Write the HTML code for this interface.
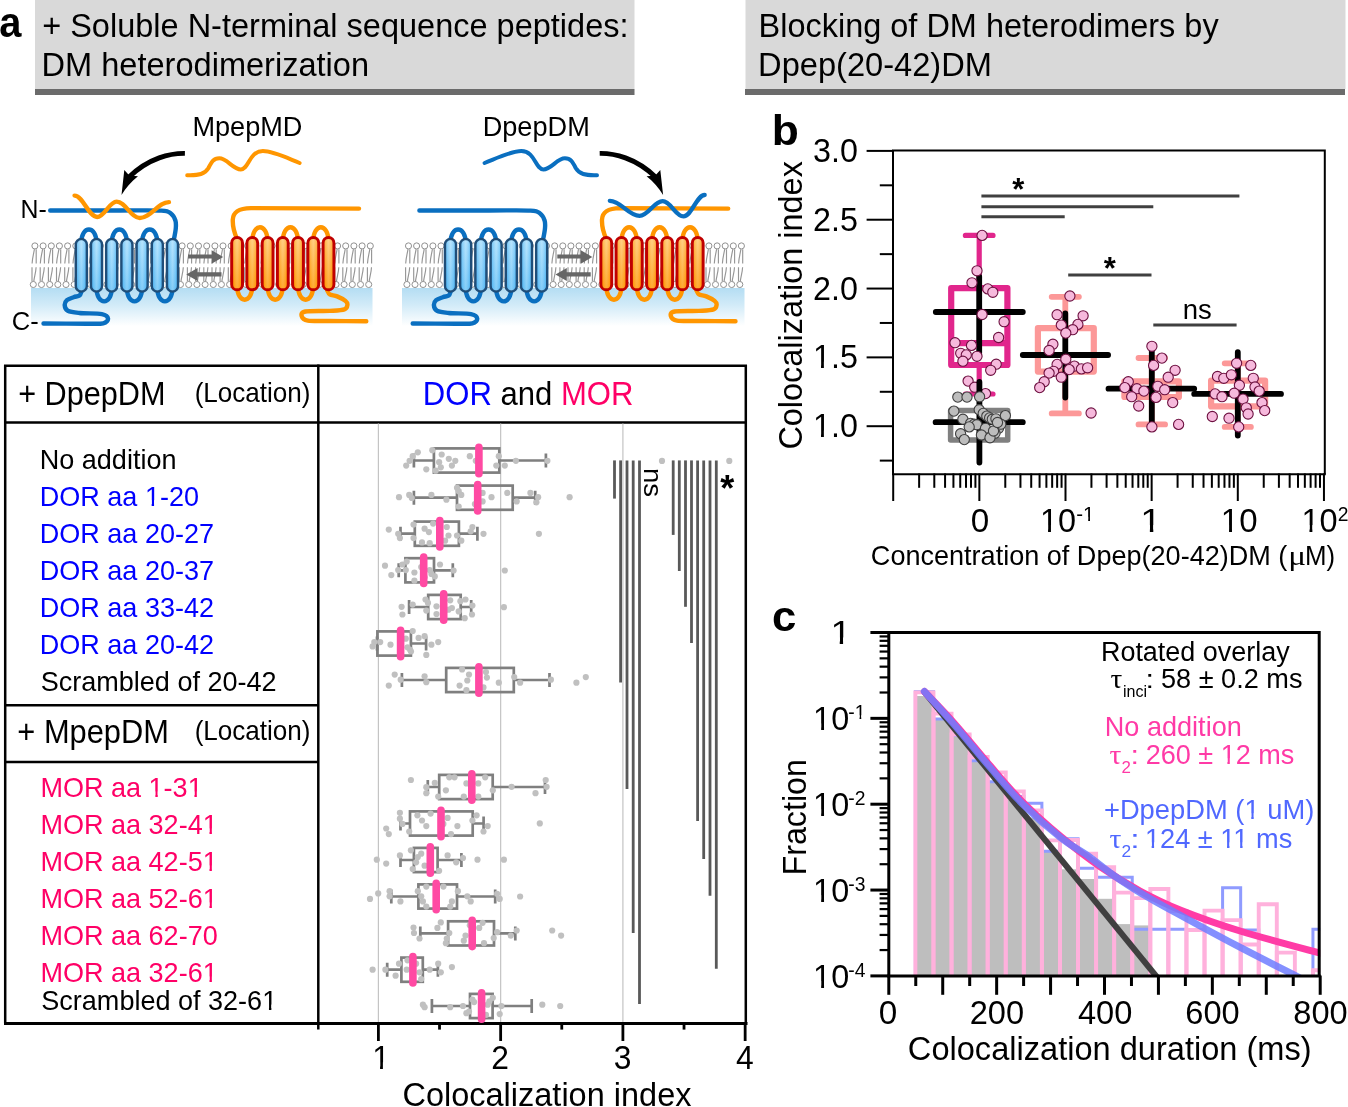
<!DOCTYPE html>
<html><head><meta charset="utf-8"><title>Figure</title>
<style>
html,body{margin:0;padding:0;background:#fff;}
body{width:1348px;height:1107px;overflow:hidden;font-family:"Liberation Sans",sans-serif;}
svg{display:block;will-change:transform;}
</style></head><body>
<svg xmlns="http://www.w3.org/2000/svg" width="1348" height="1107" viewBox="0 0 1348 1107">
<rect x="35" y="0" width="599.5" height="89" fill="#d9d9d9"/>
<rect x="35" y="89" width="599.5" height="6" fill="#6b6b6b"/>
<rect x="745.5" y="0" width="600" height="89" fill="#d9d9d9"/>
<rect x="745" y="89" width="600" height="6" fill="#6b6b6b"/>
<text transform="translate(-0.69,37.17) scale(0.9609,1.0400)" style='font-family:"Liberation Sans",sans-serif;font-size:41.43px;font-weight:bold;' fill="#000" >a</text>
<text transform="translate(771.72,145.17) scale(1.0764,1.0400)" style='font-family:"Liberation Sans",sans-serif;font-size:41.21px;font-weight:bold;' fill="#000" >b</text>
<text transform="translate(771.95,631.17) scale(1.0640,1.0400)" style='font-family:"Liberation Sans",sans-serif;font-size:41.08px;font-weight:bold;' fill="#000" >c</text>
<text transform="translate(42.17,36.90) scale(1.0095,1.0400)" style='font-family:"Liberation Sans",sans-serif;font-size:32.20px;' fill="#000" >+ Soluble N-terminal sequence peptides:</text>
<text transform="translate(41.59,75.70) scale(1.0114,1.0400)" style='font-family:"Liberation Sans",sans-serif;font-size:32.20px;' fill="#000" >DM heterodimerization</text>
<text transform="translate(758.60,36.90) scale(1.0086,1.0400)" style='font-family:"Liberation Sans",sans-serif;font-size:32.20px;' fill="#000" >Blocking of DM heterodimers by</text>
<text transform="translate(758.09,75.70) scale(1.0135,1.0400)" style='font-family:"Liberation Sans",sans-serif;font-size:32.20px;' fill="#000" >Dpep(20-42)DM</text>
<defs>
<linearGradient id="cyto" x1="0" y1="0" x2="0" y2="1">
 <stop offset="0" stop-color="#b4ddf3"/>
 <stop offset="0.45" stop-color="#d2ebf8"/>
 <stop offset="1" stop-color="#ffffff"/>
</linearGradient>
<linearGradient id="hb" x1="0" y1="0" x2="0" y2="1">
 <stop offset="0" stop-color="#a2dcfd"/>
 <stop offset="1" stop-color="#5cbcf5"/>
</linearGradient>
<linearGradient id="hbv" x1="0" y1="0" x2="1" y2="0">
 <stop offset="0" stop-color="#3aa8ee" stop-opacity="0.35"/>
 <stop offset="0.5" stop-color="#ffffff" stop-opacity="0.25"/>
 <stop offset="1" stop-color="#3aa8ee" stop-opacity="0.35"/>
</linearGradient>
<linearGradient id="ho" x1="0" y1="0" x2="0" y2="1">
 <stop offset="0" stop-color="#ffc468"/>
 <stop offset="1" stop-color="#ff9500"/>
</linearGradient>
<linearGradient id="hov" x1="0" y1="0" x2="1" y2="0">
 <stop offset="0" stop-color="#ff8c00" stop-opacity="0.3"/>
 <stop offset="0.5" stop-color="#ffffff" stop-opacity="0.2"/>
 <stop offset="1" stop-color="#ff8c00" stop-opacity="0.3"/>
</linearGradient>
</defs>
<rect x="31.0" y="288" width="341.5" height="38" fill="url(#cyto)"/>
<path d="M36.2,249.2 V263.6 M34.4,249.2 C33.7,254 32.3,258 32.1,263.6 M32.0,267.3 V281.3 M33.8,281.3 C34.5,276 35.9,272 36.1,267.3 M44.4,249.2 V263.6 M42.6,249.2 C41.9,254 40.5,258 40.3,263.6 M40.2,267.3 V281.3 M42.0,281.3 C42.7,276 44.1,272 44.3,267.3 M52.6,249.2 V263.6 M50.8,249.2 C50.1,254 48.7,258 48.5,263.6 M48.4,267.3 V281.3 M50.2,281.3 C50.9,276 52.3,272 52.5,267.3 M60.7,249.2 V263.6 M58.9,249.2 C58.2,254 56.8,258 56.6,263.6 M56.5,267.3 V281.3 M58.3,281.3 C59.0,276 60.4,272 60.6,267.3 M68.9,249.2 V263.6 M67.1,249.2 C66.4,254 65.0,258 64.8,263.6 M64.7,267.3 V281.3 M66.5,281.3 C67.2,276 68.6,272 68.8,267.3 M77.1,249.2 V263.6 M75.3,249.2 C74.6,254 73.2,258 73.0,263.6 M72.9,267.3 V281.3 M74.7,281.3 C75.4,276 76.8,272 77.0,267.3 M85.3,249.2 V263.6 M83.5,249.2 C82.8,254 81.4,258 81.2,263.6 M81.1,267.3 V281.3 M82.9,281.3 C83.6,276 85.0,272 85.2,267.3 M93.5,249.2 V263.6 M91.7,249.2 C91.0,254 89.6,258 89.4,263.6 M89.3,267.3 V281.3 M91.1,281.3 C91.8,276 93.2,272 93.4,267.3 M101.6,249.2 V263.6 M99.8,249.2 C99.1,254 97.7,258 97.5,263.6 M97.4,267.3 V281.3 M99.2,281.3 C99.9,276 101.3,272 101.5,267.3 M109.8,249.2 V263.6 M108.0,249.2 C107.3,254 105.9,258 105.7,263.6 M105.6,267.3 V281.3 M107.4,281.3 C108.1,276 109.5,272 109.7,267.3 M118.0,249.2 V263.6 M116.2,249.2 C115.5,254 114.1,258 113.9,263.6 M113.8,267.3 V281.3 M115.6,281.3 C116.3,276 117.7,272 117.9,267.3 M126.2,249.2 V263.6 M124.4,249.2 C123.7,254 122.3,258 122.1,263.6 M122.0,267.3 V281.3 M123.8,281.3 C124.5,276 125.9,272 126.1,267.3 M134.4,249.2 V263.6 M132.6,249.2 C131.9,254 130.5,258 130.3,263.6 M130.2,267.3 V281.3 M132.0,281.3 C132.7,276 134.1,272 134.3,267.3 M142.5,249.2 V263.6 M140.7,249.2 C140.0,254 138.6,258 138.4,263.6 M138.3,267.3 V281.3 M140.1,281.3 C140.8,276 142.2,272 142.4,267.3 M150.7,249.2 V263.6 M148.9,249.2 C148.2,254 146.8,258 146.6,263.6 M146.5,267.3 V281.3 M148.3,281.3 C149.0,276 150.4,272 150.6,267.3 M158.9,249.2 V263.6 M157.1,249.2 C156.4,254 155.0,258 154.8,263.6 M154.7,267.3 V281.3 M156.5,281.3 C157.2,276 158.6,272 158.8,267.3 M167.1,249.2 V263.6 M165.3,249.2 C164.6,254 163.2,258 163.0,263.6 M162.9,267.3 V281.3 M164.7,281.3 C165.4,276 166.8,272 167.0,267.3 M175.3,249.2 V263.6 M173.5,249.2 C172.8,254 171.4,258 171.2,263.6 M171.1,267.3 V281.3 M172.9,281.3 C173.6,276 175.0,272 175.2,267.3 M183.4,249.2 V263.6 M181.6,249.2 C180.9,254 179.5,258 179.3,263.6 M179.2,267.3 V281.3 M181.0,281.3 C181.7,276 183.1,272 183.3,267.3 M191.6,249.2 V263.6 M189.8,249.2 C189.1,254 187.7,258 187.5,263.6 M187.4,267.3 V281.3 M189.2,281.3 C189.9,276 191.3,272 191.5,267.3 M199.8,249.2 V263.6 M198.0,249.2 C197.3,254 195.9,258 195.7,263.6 M195.6,267.3 V281.3 M197.4,281.3 C198.1,276 199.5,272 199.7,267.3 M208.0,249.2 V263.6 M206.2,249.2 C205.5,254 204.1,258 203.9,263.6 M203.8,267.3 V281.3 M205.6,281.3 C206.3,276 207.7,272 207.9,267.3 M216.2,249.2 V263.6 M214.4,249.2 C213.7,254 212.3,258 212.1,263.6 M212.0,267.3 V281.3 M213.8,281.3 C214.5,276 215.9,272 216.1,267.3 M224.3,249.2 V263.6 M222.5,249.2 C221.8,254 220.4,258 220.2,263.6 M220.1,267.3 V281.3 M221.9,281.3 C222.6,276 224.0,272 224.2,267.3 M232.5,249.2 V263.6 M230.7,249.2 C230.0,254 228.6,258 228.4,263.6 M228.3,267.3 V281.3 M230.1,281.3 C230.8,276 232.2,272 232.4,267.3 M240.7,249.2 V263.6 M238.9,249.2 C238.2,254 236.8,258 236.6,263.6 M236.5,267.3 V281.3 M238.3,281.3 C239.0,276 240.4,272 240.6,267.3 M248.9,249.2 V263.6 M247.1,249.2 C246.4,254 245.0,258 244.8,263.6 M244.7,267.3 V281.3 M246.5,281.3 C247.2,276 248.6,272 248.8,267.3 M257.1,249.2 V263.6 M255.3,249.2 C254.6,254 253.2,258 253.0,263.6 M252.9,267.3 V281.3 M254.7,281.3 C255.4,276 256.8,272 257.0,267.3 M265.2,249.2 V263.6 M263.4,249.2 C262.7,254 261.3,258 261.1,263.6 M261.0,267.3 V281.3 M262.8,281.3 C263.5,276 264.9,272 265.1,267.3 M273.4,249.2 V263.6 M271.6,249.2 C270.9,254 269.5,258 269.3,263.6 M269.2,267.3 V281.3 M271.0,281.3 C271.7,276 273.1,272 273.3,267.3 M281.6,249.2 V263.6 M279.8,249.2 C279.1,254 277.7,258 277.5,263.6 M277.4,267.3 V281.3 M279.2,281.3 C279.9,276 281.3,272 281.5,267.3 M289.8,249.2 V263.6 M288.0,249.2 C287.3,254 285.9,258 285.7,263.6 M285.6,267.3 V281.3 M287.4,281.3 C288.1,276 289.5,272 289.7,267.3 M298.0,249.2 V263.6 M296.2,249.2 C295.5,254 294.1,258 293.9,263.6 M293.8,267.3 V281.3 M295.6,281.3 C296.3,276 297.7,272 297.9,267.3 M306.1,249.2 V263.6 M304.3,249.2 C303.6,254 302.2,258 302.0,263.6 M301.9,267.3 V281.3 M303.7,281.3 C304.4,276 305.8,272 306.0,267.3 M314.3,249.2 V263.6 M312.5,249.2 C311.8,254 310.4,258 310.2,263.6 M310.1,267.3 V281.3 M311.9,281.3 C312.6,276 314.0,272 314.2,267.3 M322.5,249.2 V263.6 M320.7,249.2 C320.0,254 318.6,258 318.4,263.6 M318.3,267.3 V281.3 M320.1,281.3 C320.8,276 322.2,272 322.4,267.3 M330.7,249.2 V263.6 M328.9,249.2 C328.2,254 326.8,258 326.6,263.6 M326.5,267.3 V281.3 M328.3,281.3 C329.0,276 330.4,272 330.6,267.3 M338.9,249.2 V263.6 M337.1,249.2 C336.4,254 335.0,258 334.8,263.6 M334.7,267.3 V281.3 M336.5,281.3 C337.2,276 338.6,272 338.8,267.3 M347.0,249.2 V263.6 M345.2,249.2 C344.5,254 343.1,258 342.9,263.6 M342.8,267.3 V281.3 M344.6,281.3 C345.3,276 346.7,272 346.9,267.3 M355.2,249.2 V263.6 M353.4,249.2 C352.7,254 351.3,258 351.1,263.6 M351.0,267.3 V281.3 M352.8,281.3 C353.5,276 354.9,272 355.1,267.3 M363.4,249.2 V263.6 M361.6,249.2 C360.9,254 359.5,258 359.3,263.6 M359.2,267.3 V281.3 M361.0,281.3 C361.7,276 363.1,272 363.3,267.3 M371.6,249.2 V263.6 M369.8,249.2 C369.1,254 367.7,258 367.5,263.6 M367.4,267.3 V281.3 M369.2,281.3 C369.9,276 371.3,272 371.5,267.3" stroke="#969696" stroke-width="1.15" fill="none"/>
<g fill="#fff" stroke="#8f8f8f" stroke-width="1.0"><circle cx="34.9" cy="245.9" r="3.05"/><circle cx="33.3" cy="284.5" r="3.05"/><circle cx="43.1" cy="245.9" r="3.05"/><circle cx="41.5" cy="284.5" r="3.05"/><circle cx="51.3" cy="245.9" r="3.05"/><circle cx="49.7" cy="284.5" r="3.05"/><circle cx="59.4" cy="245.9" r="3.05"/><circle cx="57.8" cy="284.5" r="3.05"/><circle cx="67.6" cy="245.9" r="3.05"/><circle cx="66.0" cy="284.5" r="3.05"/><circle cx="75.8" cy="245.9" r="3.05"/><circle cx="74.2" cy="284.5" r="3.05"/><circle cx="84.0" cy="245.9" r="3.05"/><circle cx="82.4" cy="284.5" r="3.05"/><circle cx="92.2" cy="245.9" r="3.05"/><circle cx="90.6" cy="284.5" r="3.05"/><circle cx="100.3" cy="245.9" r="3.05"/><circle cx="98.7" cy="284.5" r="3.05"/><circle cx="108.5" cy="245.9" r="3.05"/><circle cx="106.9" cy="284.5" r="3.05"/><circle cx="116.7" cy="245.9" r="3.05"/><circle cx="115.1" cy="284.5" r="3.05"/><circle cx="124.9" cy="245.9" r="3.05"/><circle cx="123.3" cy="284.5" r="3.05"/><circle cx="133.1" cy="245.9" r="3.05"/><circle cx="131.5" cy="284.5" r="3.05"/><circle cx="141.2" cy="245.9" r="3.05"/><circle cx="139.6" cy="284.5" r="3.05"/><circle cx="149.4" cy="245.9" r="3.05"/><circle cx="147.8" cy="284.5" r="3.05"/><circle cx="157.6" cy="245.9" r="3.05"/><circle cx="156.0" cy="284.5" r="3.05"/><circle cx="165.8" cy="245.9" r="3.05"/><circle cx="164.2" cy="284.5" r="3.05"/><circle cx="174.0" cy="245.9" r="3.05"/><circle cx="172.4" cy="284.5" r="3.05"/><circle cx="182.1" cy="245.9" r="3.05"/><circle cx="180.5" cy="284.5" r="3.05"/><circle cx="190.3" cy="245.9" r="3.05"/><circle cx="188.7" cy="284.5" r="3.05"/><circle cx="198.5" cy="245.9" r="3.05"/><circle cx="196.9" cy="284.5" r="3.05"/><circle cx="206.7" cy="245.9" r="3.05"/><circle cx="205.1" cy="284.5" r="3.05"/><circle cx="214.9" cy="245.9" r="3.05"/><circle cx="213.3" cy="284.5" r="3.05"/><circle cx="223.0" cy="245.9" r="3.05"/><circle cx="221.4" cy="284.5" r="3.05"/><circle cx="231.2" cy="245.9" r="3.05"/><circle cx="229.6" cy="284.5" r="3.05"/><circle cx="239.4" cy="245.9" r="3.05"/><circle cx="237.8" cy="284.5" r="3.05"/><circle cx="247.6" cy="245.9" r="3.05"/><circle cx="246.0" cy="284.5" r="3.05"/><circle cx="255.8" cy="245.9" r="3.05"/><circle cx="254.2" cy="284.5" r="3.05"/><circle cx="263.9" cy="245.9" r="3.05"/><circle cx="262.3" cy="284.5" r="3.05"/><circle cx="272.1" cy="245.9" r="3.05"/><circle cx="270.5" cy="284.5" r="3.05"/><circle cx="280.3" cy="245.9" r="3.05"/><circle cx="278.7" cy="284.5" r="3.05"/><circle cx="288.5" cy="245.9" r="3.05"/><circle cx="286.9" cy="284.5" r="3.05"/><circle cx="296.7" cy="245.9" r="3.05"/><circle cx="295.1" cy="284.5" r="3.05"/><circle cx="304.8" cy="245.9" r="3.05"/><circle cx="303.2" cy="284.5" r="3.05"/><circle cx="313.0" cy="245.9" r="3.05"/><circle cx="311.4" cy="284.5" r="3.05"/><circle cx="321.2" cy="245.9" r="3.05"/><circle cx="319.6" cy="284.5" r="3.05"/><circle cx="329.4" cy="245.9" r="3.05"/><circle cx="327.8" cy="284.5" r="3.05"/><circle cx="337.6" cy="245.9" r="3.05"/><circle cx="336.0" cy="284.5" r="3.05"/><circle cx="345.7" cy="245.9" r="3.05"/><circle cx="344.1" cy="284.5" r="3.05"/><circle cx="353.9" cy="245.9" r="3.05"/><circle cx="352.3" cy="284.5" r="3.05"/><circle cx="362.1" cy="245.9" r="3.05"/><circle cx="360.5" cy="284.5" r="3.05"/><circle cx="370.3" cy="245.9" r="3.05"/><circle cx="368.7" cy="284.5" r="3.05"/></g>
<path d="M81.3,242.9 C81.3,225.0 96.5,225.0 96.5,242.9 M111.8,242.9 C111.8,225.0 126.9,225.0 126.9,242.9 M142.1,242.9 C142.1,225.0 157.3,225.0 157.3,242.9 M96.5,287.6 C96.5,306.0 111.8,306.0 111.8,287.6 M126.9,287.6 C126.9,306.0 142.1,306.0 142.1,287.6 M157.3,287.6 C157.3,306.0 172.5,306.0 172.5,287.6 M50.2,210.5 C61.8,210.5 101.5,210.5 120.0,210.5 C138.5,210.5 152.8,210.1 161.3,210.6 C169.8,211.1 168.6,211.8 170.9,213.5 C173.2,215.2 174.6,218.1 175.4,220.5 C176.2,222.9 176.0,225.3 175.8,228.2 C175.6,231.1 174.5,236.4 174.2,238.0 M81.6,291.0 C81.2,291.8 80.8,294.6 79.5,295.6 C78.2,296.6 75.7,296.4 73.6,297.2 C71.5,298.0 68.4,298.9 66.9,300.2 C65.4,301.5 64.6,303.4 64.7,305.2 C64.8,307.0 65.3,309.5 67.8,310.8 C70.3,312.1 73.8,312.4 79.5,313.0 C85.2,313.6 97.0,313.2 101.8,314.1 C106.5,315.0 107.8,317.1 108.0,318.6 C108.2,320.1 106.7,322.5 103.2,323.3 C99.7,324.1 96.9,323.7 86.9,323.7 C77.0,323.7 50.7,323.5 43.5,323.5" stroke="#0a6fc0" stroke-width="4.4" fill="none" stroke-linecap="round"/>
<rect x="75.8" y="238.9" width="11.0" height="52.7" rx="5.5" fill="url(#hb)" stroke="#1f4e79" stroke-width="2.5"/>
<rect x="77.1" y="240.2" width="8.5" height="50.2" rx="4.2" fill="url(#hbv)"/>
<rect x="91.0" y="238.9" width="11.0" height="52.7" rx="5.5" fill="url(#hb)" stroke="#1f4e79" stroke-width="2.5"/>
<rect x="92.3" y="240.2" width="8.5" height="50.2" rx="4.2" fill="url(#hbv)"/>
<rect x="106.2" y="238.9" width="11.0" height="52.7" rx="5.5" fill="url(#hb)" stroke="#1f4e79" stroke-width="2.5"/>
<rect x="107.5" y="240.2" width="8.5" height="50.2" rx="4.2" fill="url(#hbv)"/>
<rect x="121.4" y="238.9" width="11.0" height="52.7" rx="5.5" fill="url(#hb)" stroke="#1f4e79" stroke-width="2.5"/>
<rect x="122.7" y="240.2" width="8.5" height="50.2" rx="4.2" fill="url(#hbv)"/>
<rect x="136.6" y="238.9" width="11.0" height="52.7" rx="5.5" fill="url(#hb)" stroke="#1f4e79" stroke-width="2.5"/>
<rect x="137.9" y="240.2" width="8.5" height="50.2" rx="4.2" fill="url(#hbv)"/>
<rect x="151.8" y="238.9" width="11.0" height="52.7" rx="5.5" fill="url(#hb)" stroke="#1f4e79" stroke-width="2.5"/>
<rect x="153.1" y="240.2" width="8.5" height="50.2" rx="4.2" fill="url(#hbv)"/>
<rect x="167.0" y="238.9" width="11.0" height="52.7" rx="5.5" fill="url(#hb)" stroke="#1f4e79" stroke-width="2.5"/>
<rect x="168.3" y="240.2" width="8.5" height="50.2" rx="4.2" fill="url(#hbv)"/>
<path d="M252.3,241.6 C252.3,222.4 267.6,222.4 267.6,241.6 M282.8,241.6 C282.8,222.4 298.0,222.4 298.0,241.6 M313.2,241.6 C313.2,222.4 328.5,222.4 328.5,241.6 M237.1,285.8 C237.1,304.3 252.3,304.3 252.3,285.8 M267.6,285.8 C267.6,304.3 282.8,304.3 282.8,285.8 M298.0,285.8 C298.0,304.3 313.2,304.3 313.2,285.8 M 237.1 239.0 C 233.5 231.0 232.6 224.0 232.8 219.5 C 233.2 212.0 238.0 208.4 251.0 208.1 L 359.0 208.6 M327.3,290.5 C327.7,291.1 328.2,293.4 329.8,294.4 C331.4,295.4 334.5,295.3 337.1,296.4 C339.7,297.5 343.7,299.5 345.4,300.9 C347.1,302.3 347.6,303.4 347.4,304.8 C347.2,306.2 347.3,308.4 344.4,309.4 C341.5,310.4 336.3,310.5 329.8,310.9 C323.3,311.2 310.1,310.6 305.4,311.5 C300.7,312.4 301.3,314.6 301.7,316.1 C302.1,317.6 303.1,319.8 307.8,320.6 C312.5,321.4 320.2,320.9 330.0,321.0 C339.8,321.1 360.2,321.2 366.3,321.2" stroke="#ff9600" stroke-width="4.4" fill="none" stroke-linecap="round"/>
<rect x="231.7" y="237.6" width="10.8" height="52.2" rx="5.4" fill="url(#ho)" stroke="#c00000" stroke-width="3.0"/>
<rect x="233.2" y="239.1" width="7.8" height="49.2" rx="3.9" fill="url(#hov)"/>
<rect x="246.9" y="237.6" width="10.8" height="52.2" rx="5.4" fill="url(#ho)" stroke="#c00000" stroke-width="3.0"/>
<rect x="248.4" y="239.1" width="7.8" height="49.2" rx="3.9" fill="url(#hov)"/>
<rect x="262.2" y="237.6" width="10.8" height="52.2" rx="5.4" fill="url(#ho)" stroke="#c00000" stroke-width="3.0"/>
<rect x="263.7" y="239.1" width="7.8" height="49.2" rx="3.9" fill="url(#hov)"/>
<rect x="277.4" y="237.6" width="10.8" height="52.2" rx="5.4" fill="url(#ho)" stroke="#c00000" stroke-width="3.0"/>
<rect x="278.9" y="239.1" width="7.8" height="49.2" rx="3.9" fill="url(#hov)"/>
<rect x="292.6" y="237.6" width="10.8" height="52.2" rx="5.4" fill="url(#ho)" stroke="#c00000" stroke-width="3.0"/>
<rect x="294.1" y="239.1" width="7.8" height="49.2" rx="3.9" fill="url(#hov)"/>
<rect x="307.9" y="237.6" width="10.8" height="52.2" rx="5.4" fill="url(#ho)" stroke="#c00000" stroke-width="3.0"/>
<rect x="309.4" y="239.1" width="7.8" height="49.2" rx="3.9" fill="url(#hov)"/>
<rect x="323.1" y="237.6" width="10.8" height="52.2" rx="5.4" fill="url(#ho)" stroke="#c00000" stroke-width="3.0"/>
<rect x="324.6" y="239.1" width="7.8" height="49.2" rx="3.9" fill="url(#hov)"/>
<g fill="#666">
<path d="M188.1,254.5 H211.6 V250.2 L223.1,256.9 L211.6,263.7 V258.6 H188.1 Z"/>
<path d="M221.5,272.3 H197.6 V268.0 L186.3,274.6 L197.6,280.9 V276.4 H221.5 Z"/>
</g>
<rect x="402.0" y="288" width="342.5" height="38" fill="url(#cyto)"/>
<path d="M409.8,249.2 V263.6 M408.0,249.2 C407.3,254 405.9,258 405.7,263.6 M405.6,267.3 V281.3 M407.4,281.3 C408.1,276 409.5,272 409.7,267.3 M417.9,249.2 V263.6 M416.1,249.2 C415.4,254 414.0,258 413.8,263.6 M413.7,267.3 V281.3 M415.5,281.3 C416.2,276 417.6,272 417.8,267.3 M426.0,249.2 V263.6 M424.2,249.2 C423.5,254 422.1,258 421.9,263.6 M421.8,267.3 V281.3 M423.6,281.3 C424.3,276 425.7,272 425.9,267.3 M434.2,249.2 V263.6 M432.4,249.2 C431.7,254 430.3,258 430.1,263.6 M430.0,267.3 V281.3 M431.8,281.3 C432.5,276 433.9,272 434.1,267.3 M442.3,249.2 V263.6 M440.5,249.2 C439.8,254 438.4,258 438.2,263.6 M438.1,267.3 V281.3 M439.9,281.3 C440.6,276 442.0,272 442.2,267.3 M450.4,249.2 V263.6 M448.6,249.2 C447.9,254 446.5,258 446.3,263.6 M446.2,267.3 V281.3 M448.0,281.3 C448.7,276 450.1,272 450.3,267.3 M458.5,249.2 V263.6 M456.7,249.2 C456.0,254 454.6,258 454.4,263.6 M454.3,267.3 V281.3 M456.1,281.3 C456.8,276 458.2,272 458.4,267.3 M466.6,249.2 V263.6 M464.8,249.2 C464.1,254 462.7,258 462.5,263.6 M462.4,267.3 V281.3 M464.2,281.3 C464.9,276 466.3,272 466.5,267.3 M474.8,249.2 V263.6 M473.0,249.2 C472.3,254 470.9,258 470.7,263.6 M470.6,267.3 V281.3 M472.4,281.3 C473.1,276 474.5,272 474.7,267.3 M482.9,249.2 V263.6 M481.1,249.2 C480.4,254 479.0,258 478.8,263.6 M478.7,267.3 V281.3 M480.5,281.3 C481.2,276 482.6,272 482.8,267.3 M491.0,249.2 V263.6 M489.2,249.2 C488.5,254 487.1,258 486.9,263.6 M486.8,267.3 V281.3 M488.6,281.3 C489.3,276 490.7,272 490.9,267.3 M499.1,249.2 V263.6 M497.3,249.2 C496.6,254 495.2,258 495.0,263.6 M494.9,267.3 V281.3 M496.7,281.3 C497.4,276 498.8,272 499.0,267.3 M507.2,249.2 V263.6 M505.4,249.2 C504.7,254 503.3,258 503.1,263.6 M503.0,267.3 V281.3 M504.8,281.3 C505.5,276 506.9,272 507.1,267.3 M515.4,249.2 V263.6 M513.6,249.2 C512.9,254 511.5,258 511.3,263.6 M511.2,267.3 V281.3 M513.0,281.3 C513.7,276 515.1,272 515.3,267.3 M523.5,249.2 V263.6 M521.7,249.2 C521.0,254 519.6,258 519.4,263.6 M519.3,267.3 V281.3 M521.1,281.3 C521.8,276 523.2,272 523.4,267.3 M531.6,249.2 V263.6 M529.8,249.2 C529.1,254 527.7,258 527.5,263.6 M527.4,267.3 V281.3 M529.2,281.3 C529.9,276 531.3,272 531.5,267.3 M539.7,249.2 V263.6 M537.9,249.2 C537.2,254 535.8,258 535.6,263.6 M535.5,267.3 V281.3 M537.3,281.3 C538.0,276 539.4,272 539.6,267.3 M547.8,249.2 V263.6 M546.0,249.2 C545.3,254 543.9,258 543.7,263.6 M543.6,267.3 V281.3 M545.4,281.3 C546.1,276 547.5,272 547.7,267.3 M556.0,249.2 V263.6 M554.2,249.2 C553.5,254 552.1,258 551.9,263.6 M551.8,267.3 V281.3 M553.6,281.3 C554.3,276 555.7,272 555.9,267.3 M564.1,249.2 V263.6 M562.3,249.2 C561.6,254 560.2,258 560.0,263.6 M559.9,267.3 V281.3 M561.7,281.3 C562.4,276 563.8,272 564.0,267.3 M572.2,249.2 V263.6 M570.4,249.2 C569.7,254 568.3,258 568.1,263.6 M568.0,267.3 V281.3 M569.8,281.3 C570.5,276 571.9,272 572.1,267.3 M580.3,249.2 V263.6 M578.5,249.2 C577.8,254 576.4,258 576.2,263.6 M576.1,267.3 V281.3 M577.9,281.3 C578.6,276 580.0,272 580.2,267.3 M588.4,249.2 V263.6 M586.6,249.2 C585.9,254 584.5,258 584.3,263.6 M584.2,267.3 V281.3 M586.0,281.3 C586.7,276 588.1,272 588.3,267.3 M596.6,249.2 V263.6 M594.8,249.2 C594.1,254 592.7,258 592.5,263.6 M592.4,267.3 V281.3 M594.2,281.3 C594.9,276 596.3,272 596.5,267.3 M604.7,249.2 V263.6 M602.9,249.2 C602.2,254 600.8,258 600.6,263.6 M600.5,267.3 V281.3 M602.3,281.3 C603.0,276 604.4,272 604.6,267.3 M612.8,249.2 V263.6 M611.0,249.2 C610.3,254 608.9,258 608.7,263.6 M608.6,267.3 V281.3 M610.4,281.3 C611.1,276 612.5,272 612.7,267.3 M620.9,249.2 V263.6 M619.1,249.2 C618.4,254 617.0,258 616.8,263.6 M616.7,267.3 V281.3 M618.5,281.3 C619.2,276 620.6,272 620.8,267.3 M629.0,249.2 V263.6 M627.2,249.2 C626.5,254 625.1,258 624.9,263.6 M624.8,267.3 V281.3 M626.6,281.3 C627.3,276 628.7,272 628.9,267.3 M637.2,249.2 V263.6 M635.4,249.2 C634.7,254 633.3,258 633.1,263.6 M633.0,267.3 V281.3 M634.8,281.3 C635.5,276 636.9,272 637.1,267.3 M645.3,249.2 V263.6 M643.5,249.2 C642.8,254 641.4,258 641.2,263.6 M641.1,267.3 V281.3 M642.9,281.3 C643.6,276 645.0,272 645.2,267.3 M653.4,249.2 V263.6 M651.6,249.2 C650.9,254 649.5,258 649.3,263.6 M649.2,267.3 V281.3 M651.0,281.3 C651.7,276 653.1,272 653.3,267.3 M661.5,249.2 V263.6 M659.7,249.2 C659.0,254 657.6,258 657.4,263.6 M657.3,267.3 V281.3 M659.1,281.3 C659.8,276 661.2,272 661.4,267.3 M669.6,249.2 V263.6 M667.8,249.2 C667.1,254 665.7,258 665.5,263.6 M665.4,267.3 V281.3 M667.2,281.3 C667.9,276 669.3,272 669.5,267.3 M677.8,249.2 V263.6 M676.0,249.2 C675.3,254 673.9,258 673.7,263.6 M673.6,267.3 V281.3 M675.4,281.3 C676.1,276 677.5,272 677.7,267.3 M685.9,249.2 V263.6 M684.1,249.2 C683.4,254 682.0,258 681.8,263.6 M681.7,267.3 V281.3 M683.5,281.3 C684.2,276 685.6,272 685.8,267.3 M694.0,249.2 V263.6 M692.2,249.2 C691.5,254 690.1,258 689.9,263.6 M689.8,267.3 V281.3 M691.6,281.3 C692.3,276 693.7,272 693.9,267.3 M702.1,249.2 V263.6 M700.3,249.2 C699.6,254 698.2,258 698.0,263.6 M697.9,267.3 V281.3 M699.7,281.3 C700.4,276 701.8,272 702.0,267.3 M710.2,249.2 V263.6 M708.4,249.2 C707.7,254 706.3,258 706.1,263.6 M706.0,267.3 V281.3 M707.8,281.3 C708.5,276 709.9,272 710.1,267.3 M718.4,249.2 V263.6 M716.6,249.2 C715.9,254 714.5,258 714.3,263.6 M714.2,267.3 V281.3 M716.0,281.3 C716.7,276 718.1,272 718.3,267.3 M726.5,249.2 V263.6 M724.7,249.2 C724.0,254 722.6,258 722.4,263.6 M722.3,267.3 V281.3 M724.1,281.3 C724.8,276 726.2,272 726.4,267.3 M734.6,249.2 V263.6 M732.8,249.2 C732.1,254 730.7,258 730.5,263.6 M730.4,267.3 V281.3 M732.2,281.3 C732.9,276 734.3,272 734.5,267.3 M742.7,249.2 V263.6 M740.9,249.2 C740.2,254 738.8,258 738.6,263.6 M738.5,267.3 V281.3 M740.3,281.3 C741.0,276 742.4,272 742.6,267.3" stroke="#969696" stroke-width="1.15" fill="none"/>
<g fill="#fff" stroke="#8f8f8f" stroke-width="1.0"><circle cx="408.5" cy="245.9" r="3.05"/><circle cx="406.9" cy="284.5" r="3.05"/><circle cx="416.6" cy="245.9" r="3.05"/><circle cx="415.0" cy="284.5" r="3.05"/><circle cx="424.7" cy="245.9" r="3.05"/><circle cx="423.1" cy="284.5" r="3.05"/><circle cx="432.9" cy="245.9" r="3.05"/><circle cx="431.3" cy="284.5" r="3.05"/><circle cx="441.0" cy="245.9" r="3.05"/><circle cx="439.4" cy="284.5" r="3.05"/><circle cx="449.1" cy="245.9" r="3.05"/><circle cx="447.5" cy="284.5" r="3.05"/><circle cx="457.2" cy="245.9" r="3.05"/><circle cx="455.6" cy="284.5" r="3.05"/><circle cx="465.3" cy="245.9" r="3.05"/><circle cx="463.7" cy="284.5" r="3.05"/><circle cx="473.5" cy="245.9" r="3.05"/><circle cx="471.9" cy="284.5" r="3.05"/><circle cx="481.6" cy="245.9" r="3.05"/><circle cx="480.0" cy="284.5" r="3.05"/><circle cx="489.7" cy="245.9" r="3.05"/><circle cx="488.1" cy="284.5" r="3.05"/><circle cx="497.8" cy="245.9" r="3.05"/><circle cx="496.2" cy="284.5" r="3.05"/><circle cx="505.9" cy="245.9" r="3.05"/><circle cx="504.3" cy="284.5" r="3.05"/><circle cx="514.1" cy="245.9" r="3.05"/><circle cx="512.5" cy="284.5" r="3.05"/><circle cx="522.2" cy="245.9" r="3.05"/><circle cx="520.6" cy="284.5" r="3.05"/><circle cx="530.3" cy="245.9" r="3.05"/><circle cx="528.7" cy="284.5" r="3.05"/><circle cx="538.4" cy="245.9" r="3.05"/><circle cx="536.8" cy="284.5" r="3.05"/><circle cx="546.5" cy="245.9" r="3.05"/><circle cx="544.9" cy="284.5" r="3.05"/><circle cx="554.7" cy="245.9" r="3.05"/><circle cx="553.1" cy="284.5" r="3.05"/><circle cx="562.8" cy="245.9" r="3.05"/><circle cx="561.2" cy="284.5" r="3.05"/><circle cx="570.9" cy="245.9" r="3.05"/><circle cx="569.3" cy="284.5" r="3.05"/><circle cx="579.0" cy="245.9" r="3.05"/><circle cx="577.4" cy="284.5" r="3.05"/><circle cx="587.1" cy="245.9" r="3.05"/><circle cx="585.5" cy="284.5" r="3.05"/><circle cx="595.3" cy="245.9" r="3.05"/><circle cx="593.7" cy="284.5" r="3.05"/><circle cx="603.4" cy="245.9" r="3.05"/><circle cx="601.8" cy="284.5" r="3.05"/><circle cx="611.5" cy="245.9" r="3.05"/><circle cx="609.9" cy="284.5" r="3.05"/><circle cx="619.6" cy="245.9" r="3.05"/><circle cx="618.0" cy="284.5" r="3.05"/><circle cx="627.7" cy="245.9" r="3.05"/><circle cx="626.1" cy="284.5" r="3.05"/><circle cx="635.9" cy="245.9" r="3.05"/><circle cx="634.3" cy="284.5" r="3.05"/><circle cx="644.0" cy="245.9" r="3.05"/><circle cx="642.4" cy="284.5" r="3.05"/><circle cx="652.1" cy="245.9" r="3.05"/><circle cx="650.5" cy="284.5" r="3.05"/><circle cx="660.2" cy="245.9" r="3.05"/><circle cx="658.6" cy="284.5" r="3.05"/><circle cx="668.3" cy="245.9" r="3.05"/><circle cx="666.7" cy="284.5" r="3.05"/><circle cx="676.5" cy="245.9" r="3.05"/><circle cx="674.9" cy="284.5" r="3.05"/><circle cx="684.6" cy="245.9" r="3.05"/><circle cx="683.0" cy="284.5" r="3.05"/><circle cx="692.7" cy="245.9" r="3.05"/><circle cx="691.1" cy="284.5" r="3.05"/><circle cx="700.8" cy="245.9" r="3.05"/><circle cx="699.2" cy="284.5" r="3.05"/><circle cx="708.9" cy="245.9" r="3.05"/><circle cx="707.3" cy="284.5" r="3.05"/><circle cx="717.1" cy="245.9" r="3.05"/><circle cx="715.5" cy="284.5" r="3.05"/><circle cx="725.2" cy="245.9" r="3.05"/><circle cx="723.6" cy="284.5" r="3.05"/><circle cx="733.3" cy="245.9" r="3.05"/><circle cx="731.7" cy="284.5" r="3.05"/><circle cx="741.4" cy="245.9" r="3.05"/><circle cx="739.8" cy="284.5" r="3.05"/></g>
<path d="M450.5,242.9 C450.5,225.0 465.7,225.0 465.7,242.9 M480.9,242.9 C480.9,225.0 496.1,225.0 496.1,242.9 M511.3,242.9 C511.3,225.0 526.5,225.0 526.5,242.9 M465.7,287.6 C465.7,306.0 480.9,306.0 480.9,287.6 M496.1,287.6 C496.1,306.0 511.3,306.0 511.3,287.6 M526.5,287.6 C526.5,306.0 541.8,306.0 541.8,287.6 M419.4,210.5 C431.0,210.5 470.7,210.5 489.2,210.5 C507.7,210.5 522.0,210.1 530.5,210.6 C539.0,211.1 537.8,211.8 540.1,213.5 C542.5,215.2 543.8,218.1 544.6,220.5 C545.4,222.9 545.2,225.3 545.0,228.2 C544.8,231.1 543.7,236.4 543.4,238.0 M450.8,291.0 C450.4,291.8 450.0,294.6 448.7,295.6 C447.4,296.6 444.9,296.4 442.8,297.2 C440.7,298.0 437.6,298.9 436.1,300.2 C434.6,301.5 433.8,303.4 433.9,305.2 C434.0,307.0 434.5,309.5 437.0,310.8 C439.5,312.1 443.0,312.4 448.7,313.0 C454.4,313.6 466.2,313.2 471.0,314.1 C475.8,315.0 477.0,317.1 477.2,318.6 C477.4,320.1 475.9,322.5 472.4,323.3 C468.9,324.1 466.1,323.7 456.1,323.7 C446.2,323.7 419.9,323.5 412.7,323.5" stroke="#0a6fc0" stroke-width="4.4" fill="none" stroke-linecap="round"/>
<rect x="445.0" y="238.9" width="11.0" height="52.7" rx="5.5" fill="url(#hb)" stroke="#1f4e79" stroke-width="2.5"/>
<rect x="446.3" y="240.2" width="8.5" height="50.2" rx="4.2" fill="url(#hbv)"/>
<rect x="460.2" y="238.9" width="11.0" height="52.7" rx="5.5" fill="url(#hb)" stroke="#1f4e79" stroke-width="2.5"/>
<rect x="461.5" y="240.2" width="8.5" height="50.2" rx="4.2" fill="url(#hbv)"/>
<rect x="475.4" y="238.9" width="11.0" height="52.7" rx="5.5" fill="url(#hb)" stroke="#1f4e79" stroke-width="2.5"/>
<rect x="476.7" y="240.2" width="8.5" height="50.2" rx="4.2" fill="url(#hbv)"/>
<rect x="490.6" y="238.9" width="11.0" height="52.7" rx="5.5" fill="url(#hb)" stroke="#1f4e79" stroke-width="2.5"/>
<rect x="491.9" y="240.2" width="8.5" height="50.2" rx="4.2" fill="url(#hbv)"/>
<rect x="505.8" y="238.9" width="11.0" height="52.7" rx="5.5" fill="url(#hb)" stroke="#1f4e79" stroke-width="2.5"/>
<rect x="507.1" y="240.2" width="8.5" height="50.2" rx="4.2" fill="url(#hbv)"/>
<rect x="521.0" y="238.9" width="11.0" height="52.7" rx="5.5" fill="url(#hb)" stroke="#1f4e79" stroke-width="2.5"/>
<rect x="522.3" y="240.2" width="8.5" height="50.2" rx="4.2" fill="url(#hbv)"/>
<rect x="536.2" y="238.9" width="11.0" height="52.7" rx="5.5" fill="url(#hb)" stroke="#1f4e79" stroke-width="2.5"/>
<rect x="537.5" y="240.2" width="8.5" height="50.2" rx="4.2" fill="url(#hbv)"/>
<path d="M621.5,241.6 C621.5,222.4 636.8,222.4 636.8,241.6 M652.0,241.6 C652.0,222.4 667.2,222.4 667.2,241.6 M682.4,241.6 C682.4,222.4 697.7,222.4 697.7,241.6 M606.3,285.8 C606.3,304.3 621.5,304.3 621.5,285.8 M636.8,285.8 C636.8,304.3 652.0,304.3 652.0,285.8 M667.2,285.8 C667.2,304.3 682.4,304.3 682.4,285.8 M 606.3 239.0 C 602.7 231.0 601.8 224.0 602.0 219.5 C 602.4 212.0 607.2 208.4 620.2 208.1 L 728.2 208.6 M696.5,290.5 C696.9,291.1 697.4,293.4 699.0,294.4 C700.6,295.4 703.7,295.3 706.3,296.4 C708.9,297.5 712.9,299.5 714.6,300.9 C716.3,302.3 716.8,303.4 716.6,304.8 C716.4,306.2 716.5,308.4 713.6,309.4 C710.7,310.4 705.5,310.5 699.0,310.9 C692.5,311.2 679.3,310.6 674.6,311.5 C669.9,312.4 670.5,314.6 670.9,316.1 C671.3,317.6 672.3,319.8 677.0,320.6 C681.7,321.4 689.5,320.9 699.2,321.0 C709.0,321.1 729.5,321.2 735.5,321.2" stroke="#ff9600" stroke-width="4.4" fill="none" stroke-linecap="round"/>
<rect x="600.9" y="237.6" width="10.8" height="52.2" rx="5.4" fill="url(#ho)" stroke="#c00000" stroke-width="3.0"/>
<rect x="602.4" y="239.1" width="7.8" height="49.2" rx="3.9" fill="url(#hov)"/>
<rect x="616.1" y="237.6" width="10.8" height="52.2" rx="5.4" fill="url(#ho)" stroke="#c00000" stroke-width="3.0"/>
<rect x="617.6" y="239.1" width="7.8" height="49.2" rx="3.9" fill="url(#hov)"/>
<rect x="631.4" y="237.6" width="10.8" height="52.2" rx="5.4" fill="url(#ho)" stroke="#c00000" stroke-width="3.0"/>
<rect x="632.9" y="239.1" width="7.8" height="49.2" rx="3.9" fill="url(#hov)"/>
<rect x="646.6" y="237.6" width="10.8" height="52.2" rx="5.4" fill="url(#ho)" stroke="#c00000" stroke-width="3.0"/>
<rect x="648.1" y="239.1" width="7.8" height="49.2" rx="3.9" fill="url(#hov)"/>
<rect x="661.8" y="237.6" width="10.8" height="52.2" rx="5.4" fill="url(#ho)" stroke="#c00000" stroke-width="3.0"/>
<rect x="663.3" y="239.1" width="7.8" height="49.2" rx="3.9" fill="url(#hov)"/>
<rect x="677.0" y="237.6" width="10.8" height="52.2" rx="5.4" fill="url(#ho)" stroke="#c00000" stroke-width="3.0"/>
<rect x="678.5" y="239.1" width="7.8" height="49.2" rx="3.9" fill="url(#hov)"/>
<rect x="692.3" y="237.6" width="10.8" height="52.2" rx="5.4" fill="url(#ho)" stroke="#c00000" stroke-width="3.0"/>
<rect x="693.8" y="239.1" width="7.8" height="49.2" rx="3.9" fill="url(#hov)"/>
<g fill="#666">
<path d="M557.3,254.5 H580.8 V250.2 L592.3,256.9 L580.8,263.7 V258.6 H557.3 Z"/>
<path d="M590.7,272.3 H566.8 V268.0 L555.5,274.6 L566.8,280.9 V276.4 H590.7 Z"/>
</g>
<path d="M74.5,195.6 C83.1,195.6 88.5,217.0 97.1,217.0 C104.5,217.0 109.2,201.6 116.6,201.6 C125.4,201.6 131.0,218.0 139.8,218.0 C150.9,218.0 157.9,202.2 169.0,202.2" stroke="#ff9600" stroke-width="4.3" fill="none" stroke-linecap="round"/>
<path d="M609.8,200.8 C621.1,200.8 628.3,215.8 639.6,215.8 C648.4,215.8 653.9,201.2 662.7,201.2 C670.6,201.2 675.6,216.4 683.5,216.4 C691.6,216.4 696.6,195.0 704.7,195.0" stroke="#0a6fc0" stroke-width="4.3" fill="none" stroke-linecap="round"/>
<path d="M187.2,175.2 C199,175.6 205,174 208.5,168 C211.5,162 213.5,158.3 219.3,158.3 C227,158.3 233,169.4 240.8,169.4 C249,169.4 249,151.1 262.9,151.1 C273,151.1 287,158 299.6,163" stroke="#ff9600" stroke-width="4.0" fill="none" stroke-linecap="round"/>
<path d="M 597.0 175.2 C 585.2 175.6 579.2 174.0 575.7 168.0 C 572.7 162.0 570.7 158.3 564.9 158.3 C 557.2 158.3 551.2 169.4 543.4 169.4 C 535.2 169.4 535.2 151.1 521.3 151.1 C 511.2 151.1 497.2 158.0 484.6 163.0" stroke="#0a6fc0" stroke-width="4.0" fill="none" stroke-linecap="round"/>
<path d="M184.9,153.4 C171,153.2 149,157.5 128.5,177.5" stroke="#000" stroke-width="4.9" fill="none"/>
<path d="M121.5,194.9 L124.3,170.0 L129.3,175.6 L138.0,176.3 C131,182 126,188 121.5,194.9 Z" fill="#000"/>
<path d="M 599.7 153.4 C 613.6 153.2 635.6 157.5 656.1 177.5" stroke="#000" stroke-width="4.9" fill="none"/>
<path d="M 663.1 194.9 L 660.3 170.0 L 655.3 175.6 L 646.6 176.3 C 653.6 182.0 658.6 188.0 663.1 194.9 Z" fill="#000"/>
<text transform="translate(192.43,135.70) scale(0.9972,1.0400)" style='font-family:"Liberation Sans",sans-serif;font-size:27.20px;' fill="#000" >MpepMD</text>
<text transform="translate(482.63,135.70) scale(0.9985,1.0400)" style='font-family:"Liberation Sans",sans-serif;font-size:27.20px;' fill="#000" >DpepDM</text>
<text transform="translate(20.61,217.90) scale(1.0097,1.0400)" style='font-family:"Liberation Sans",sans-serif;font-size:24.60px;' fill="#000" >N-</text>
<text transform="translate(11.72,329.50) scale(1.0459,1.0400)" style='font-family:"Liberation Sans",sans-serif;font-size:24.40px;' fill="#000" >C-</text>
<g stroke="#000" stroke-width="2.5" fill="none">
<path d="M5.2,1023.5 V365.8 H745.8 V1023.5"/>
<line x1="5.2" y1="422.4" x2="746.8" y2="422.4"/>
<line x1="318.3" y1="364.5" x2="318.3" y2="1029.6"/>
<line x1="5.2" y1="705.2" x2="318.3" y2="705.2"/>
<line x1="5.2" y1="762.0" x2="318.3" y2="762.0"/>
<line x1="4" y1="1023.4" x2="318.3" y2="1023.4" stroke-width="3"/>
</g>
<text transform="translate(18.17,404.70) scale(0.9579,1.0400)" style='font-family:"Liberation Sans",sans-serif;font-size:32.00px;' fill="#000" >+ DpepDM</text>
<text transform="translate(194.64,402.00) scale(0.9660,1.0400)" style='font-family:"Liberation Sans",sans-serif;font-size:27.00px;' fill="#000" >(Location)</text>
<text transform="translate(17.36,742.90) scale(0.9514,1.0400)" style='font-family:"Liberation Sans",sans-serif;font-size:32.40px;' fill="#000" >+ MpepDM</text>
<text transform="translate(194.64,739.60) scale(0.9660,1.0400)" style='font-family:"Liberation Sans",sans-serif;font-size:27.00px;' fill="#000" >(Location)</text>
<text transform="translate(39.74,468.80) scale(0.9870,1.0400)" style='font-family:"Liberation Sans",sans-serif;font-size:27.40px;' fill="#000" >No addition</text>
<g transform="translate(39.74,505.78) scale(0.9870,1.0400)"><text style='font-family:"Liberation Sans",sans-serif;font-size:27.40px;' fill="#0000ff" >DOR aa 1-20</text><g fill="#fff"><rect x="107.55" y="-5.48" width="5.84" height="7.40"/><rect x="115.82" y="-5.48" width="5.62" height="7.40"/></g></g>
<text transform="translate(39.74,542.76) scale(0.9870,1.0400)" style='font-family:"Liberation Sans",sans-serif;font-size:27.40px;' fill="#0000ff" >DOR aa 20-27</text>
<text transform="translate(39.74,579.74) scale(0.9870,1.0400)" style='font-family:"Liberation Sans",sans-serif;font-size:27.40px;' fill="#0000ff" >DOR aa 20-37</text>
<text transform="translate(39.74,616.72) scale(0.9870,1.0400)" style='font-family:"Liberation Sans",sans-serif;font-size:27.40px;' fill="#0000ff" >DOR aa 33-42</text>
<text transform="translate(39.74,653.70) scale(0.9870,1.0400)" style='font-family:"Liberation Sans",sans-serif;font-size:27.40px;' fill="#0000ff" >DOR aa 20-42</text>
<text transform="translate(40.68,690.68) scale(0.9870,1.0400)" style='font-family:"Liberation Sans",sans-serif;font-size:27.40px;' fill="#000" >Scrambled of 20-42</text>
<g transform="translate(40.44,797.10) scale(0.9870,1.0400)"><text style='font-family:"Liberation Sans",sans-serif;font-size:27.40px;' fill="#ff0066" >MOR aa 1-31</text><g fill="#fff"><rect x="110.59" y="-5.48" width="5.84" height="7.40"/><rect x="118.86" y="-5.48" width="5.62" height="7.40"/><rect x="150.19" y="-5.48" width="5.84" height="7.40"/><rect x="158.46" y="-5.48" width="5.62" height="7.40"/></g></g>
<g transform="translate(40.44,834.10) scale(0.9870,1.0400)"><text style='font-family:"Liberation Sans",sans-serif;font-size:27.40px;' fill="#ff0066" >MOR aa 32-41</text><g fill="#fff"><rect x="165.43" y="-5.48" width="5.84" height="7.40"/><rect x="173.70" y="-5.48" width="5.62" height="7.40"/></g></g>
<g transform="translate(40.44,871.10) scale(0.9870,1.0400)"><text style='font-family:"Liberation Sans",sans-serif;font-size:27.40px;' fill="#ff0066" >MOR aa 42-51</text><g fill="#fff"><rect x="165.43" y="-5.48" width="5.84" height="7.40"/><rect x="173.70" y="-5.48" width="5.62" height="7.40"/></g></g>
<g transform="translate(40.44,908.10) scale(0.9870,1.0400)"><text style='font-family:"Liberation Sans",sans-serif;font-size:27.40px;' fill="#ff0066" >MOR aa 52-61</text><g fill="#fff"><rect x="165.43" y="-5.48" width="5.84" height="7.40"/><rect x="173.70" y="-5.48" width="5.62" height="7.40"/></g></g>
<text transform="translate(40.44,945.10) scale(0.9870,1.0400)" style='font-family:"Liberation Sans",sans-serif;font-size:27.40px;' fill="#ff0066" >MOR aa 62-70</text>
<g transform="translate(40.44,982.10) scale(0.9870,1.0400)"><text style='font-family:"Liberation Sans",sans-serif;font-size:27.40px;' fill="#ff0066" >MOR aa 32-61</text><g fill="#fff"><rect x="165.43" y="-5.48" width="5.84" height="7.40"/><rect x="173.70" y="-5.48" width="5.62" height="7.40"/></g></g>
<g transform="translate(41.28,1010.30) scale(0.9870,1.0400)"><text style='font-family:"Liberation Sans",sans-serif;font-size:27.40px;' fill="#000" >Scrambled of 32-61</text><g fill="#fff"><rect x="224.84" y="-5.48" width="5.84" height="7.40"/><rect x="233.12" y="-5.48" width="5.62" height="7.40"/></g></g>

<text transform="translate(422.81,404.7) scale(0.9593,1.04)" style='font-family:"Liberation Sans",sans-serif;font-size:32.4px'><tspan fill="#0000ff">DOR</tspan><tspan fill="#000"> and </tspan><tspan fill="#ff0066">MOR</tspan></text>
<line x1="378.40" y1="423.5" x2="378.40" y2="1022" stroke="#c4c4c4" stroke-width="1.2"/>
<line x1="500.65" y1="423.5" x2="500.65" y2="1022" stroke="#c4c4c4" stroke-width="1.2"/>
<line x1="622.90" y1="423.5" x2="622.90" y2="1022" stroke="#c4c4c4" stroke-width="1.2"/>
<line x1="316.5" y1="1023.4" x2="747.5" y2="1023.4" stroke="#000" stroke-width="3"/>
<line x1="378.40" y1="1023" x2="378.40" y2="1041" stroke="#000" stroke-width="2.8"/>
<line x1="500.65" y1="1023" x2="500.65" y2="1041" stroke="#000" stroke-width="2.8"/>
<line x1="622.90" y1="1023" x2="622.90" y2="1041" stroke="#000" stroke-width="2.8"/>
<line x1="745.15" y1="1023" x2="745.15" y2="1041" stroke="#000" stroke-width="2.8"/>
<line x1="439.52" y1="1023" x2="439.52" y2="1029.6" stroke="#000" stroke-width="2.8"/>
<line x1="561.77" y1="1023" x2="561.77" y2="1029.6" stroke="#000" stroke-width="2.8"/>
<line x1="684.02" y1="1023" x2="684.02" y2="1029.6" stroke="#000" stroke-width="2.8"/>
<g transform="translate(372.18,1068.90) scale(1.0000,1.0400)"><text style='font-family:"Liberation Sans",sans-serif;font-size:31.80px;' fill="#000" >1</text><g fill="#fff"><rect x="1.11" y="-6.36" width="6.77" height="8.59"/><rect x="10.72" y="-6.36" width="6.52" height="8.59"/></g></g>
<text transform="translate(491.33,1068.90) scale(1.0000,1.0400)" style='font-family:"Liberation Sans",sans-serif;font-size:31.80px;' fill="#000" >2</text>
<text transform="translate(613.65,1068.90) scale(1.0000,1.0400)" style='font-family:"Liberation Sans",sans-serif;font-size:31.80px;' fill="#000" >3</text>
<text transform="translate(735.90,1068.90) scale(1.0000,1.0400)" style='font-family:"Liberation Sans",sans-serif;font-size:31.80px;' fill="#000" >4</text>
<text transform="translate(402.48,1105.70) scale(1.0123,1.0400)" style='font-family:"Liberation Sans",sans-serif;font-size:32.10px;' fill="#000" >Colocalization index</text>
<g stroke="#7f7f7f" stroke-width="2.7" fill="none">
<rect x="433.9" y="448.4" width="65.4" height="24.2"/>
<path d="M412.9,460.5 H433.5 M499.6,460.5 H546.9 M413.9,453.5 V467.5 M545.9,453.5 V467.5"/>
<rect x="457.0" y="485.6" width="55.7" height="24.2"/>
<path d="M412.9,497.7 H456.6 M513.0,497.7 H536.2 M413.9,490.7 V504.7 M535.2,490.7 V504.7"/>
<rect x="414.8" y="521.6" width="44.1" height="24.2"/>
<path d="M399.5,533.7 H414.4 M459.2,533.7 H478.4 M400.5,526.7 V540.7 M477.4,526.7 V540.7"/>
<rect x="405.4" y="558.2" width="28.6" height="24.2"/>
<path d="M397.7,570.3 H405.0 M434.3,570.3 H453.8 M398.7,563.3 V577.3 M452.8,563.3 V577.3"/>
<rect x="428.2" y="594.9" width="32.5" height="24.2"/>
<path d="M408.1,607.0 H427.8 M461.0,607.0 H472.2 M409.1,600.0 V614.0 M471.2,600.0 V614.0"/>
<rect x="377.4" y="631.4" width="33.5" height="24.2"/>
<path d="M376.0,643.5 H377.0 M411.2,643.5 H427.1 M377.0,636.5 V650.5 M426.1,636.5 V650.5"/>
<rect x="446.2" y="667.9" width="67.6" height="24.2"/>
<path d="M400.9,680.0 H445.9 M514.2,680.0 H550.5 M401.9,673.0 V687.0 M549.5,673.0 V687.0"/>
<rect x="439.2" y="774.9" width="53.5" height="24.2"/>
<path d="M426.8,787.0 H438.8 M493.0,787.0 H546.0 M427.8,780.0 V794.0 M545.0,780.0 V794.0"/>
<rect x="410.0" y="811.4" width="62.7" height="24.2"/>
<path d="M399.5,823.5 H409.6 M473.0,823.5 H484.6 M400.5,816.5 V830.5 M483.6,816.5 V830.5"/>
<rect x="413.9" y="847.9" width="23.7" height="24.2"/>
<path d="M399.5,860.0 H413.5 M437.9,860.0 H462.4 M400.5,853.0 V867.0 M461.4,853.0 V867.0"/>
<rect x="418.4" y="884.4" width="38.6" height="24.2"/>
<path d="M390.3,896.5 H418.0 M457.3,896.5 H496.2 M391.3,889.5 V903.5 M495.2,889.5 V903.5"/>
<rect x="448.1" y="921.3" width="45.9" height="24.2"/>
<path d="M419.3,933.4 H447.7 M494.3,933.4 H516.3 M420.3,926.4 V940.4 M515.3,926.4 V940.4"/>
<rect x="401.4" y="957.6" width="21.4" height="24.2"/>
<path d="M386.2,969.7 H401.0 M423.1,969.7 H438.9 M387.2,962.7 V976.7 M437.9,962.7 V976.7"/>
<rect x="470.0" y="993.9" width="22.6" height="24.2"/>
<path d="M430.9,1006.0 H469.6 M492.9,1006.0 H532.7 M431.9,999.0 V1013.0 M531.7,999.0 V1013.0"/>
</g>
<g fill="#c0c0c0">
<circle cx="417.8" cy="452.3" r="3.1"/>
<circle cx="412.7" cy="456.2" r="3.1"/>
<circle cx="409.6" cy="460.8" r="3.1"/>
<circle cx="406.2" cy="465.6" r="3.1"/>
<circle cx="426.3" cy="469.3" r="3.1"/>
<circle cx="432.3" cy="450.2" r="3.1"/>
<circle cx="441.7" cy="454.5" r="3.1"/>
<circle cx="448.8" cy="458.8" r="3.1"/>
<circle cx="455.3" cy="460.8" r="3.1"/>
<circle cx="439.1" cy="462.2" r="3.1"/>
<circle cx="440.8" cy="467.3" r="3.1"/>
<circle cx="451.9" cy="465.6" r="3.1"/>
<circle cx="435.7" cy="470.7" r="3.1"/>
<circle cx="469.8" cy="456.2" r="3.1"/>
<circle cx="475.8" cy="460.8" r="3.1"/>
<circle cx="498.8" cy="456.2" r="3.1"/>
<circle cx="496.3" cy="465.6" r="3.1"/>
<circle cx="504.8" cy="465.6" r="3.1"/>
<circle cx="515.9" cy="460.8" r="3.1"/>
<circle cx="547.4" cy="460.8" r="3.1"/>
<circle cx="662.0" cy="460.9" r="3.1"/>
<circle cx="729.3" cy="460.9" r="3.1"/>
<circle cx="399.0" cy="497.2" r="3.1"/>
<circle cx="409.2" cy="494.9" r="3.1"/>
<circle cx="411.8" cy="498.0" r="3.1"/>
<circle cx="431.4" cy="494.9" r="3.1"/>
<circle cx="446.4" cy="499.7" r="3.1"/>
<circle cx="457.0" cy="487.8" r="3.1"/>
<circle cx="458.7" cy="491.2" r="3.1"/>
<circle cx="461.3" cy="494.9" r="3.1"/>
<circle cx="458.7" cy="506.5" r="3.1"/>
<circle cx="474.9" cy="504.0" r="3.1"/>
<circle cx="482.6" cy="492.9" r="3.1"/>
<circle cx="482.6" cy="501.4" r="3.1"/>
<circle cx="491.5" cy="497.2" r="3.1"/>
<circle cx="507.3" cy="492.9" r="3.1"/>
<circle cx="516.7" cy="501.4" r="3.1"/>
<circle cx="530.4" cy="492.9" r="3.1"/>
<circle cx="538.1" cy="497.2" r="3.1"/>
<circle cx="536.4" cy="502.3" r="3.1"/>
<circle cx="569.6" cy="497.2" r="3.1"/>
<circle cx="388.8" cy="529.6" r="3.1"/>
<circle cx="398.2" cy="533.8" r="3.1"/>
<circle cx="399.9" cy="538.1" r="3.1"/>
<circle cx="413.5" cy="524.5" r="3.1"/>
<circle cx="413.5" cy="538.1" r="3.1"/>
<circle cx="424.6" cy="528.7" r="3.1"/>
<circle cx="428.9" cy="532.1" r="3.1"/>
<circle cx="433.1" cy="523.6" r="3.1"/>
<circle cx="422.0" cy="542.4" r="3.1"/>
<circle cx="429.7" cy="543.2" r="3.1"/>
<circle cx="446.8" cy="527.0" r="3.1"/>
<circle cx="448.5" cy="535.5" r="3.1"/>
<circle cx="445.1" cy="540.7" r="3.1"/>
<circle cx="457.0" cy="535.5" r="3.1"/>
<circle cx="461.3" cy="540.7" r="3.1"/>
<circle cx="472.4" cy="527.0" r="3.1"/>
<circle cx="470.7" cy="531.3" r="3.1"/>
<circle cx="483.5" cy="533.8" r="3.1"/>
<circle cx="538.9" cy="533.8" r="3.1"/>
<circle cx="385.0" cy="565.7" r="3.1"/>
<circle cx="391.3" cy="575.1" r="3.1"/>
<circle cx="398.2" cy="570.1" r="3.1"/>
<circle cx="402.4" cy="564.5" r="3.1"/>
<circle cx="406.7" cy="561.6" r="3.1"/>
<circle cx="405.8" cy="570.1" r="3.1"/>
<circle cx="414.4" cy="572.5" r="3.1"/>
<circle cx="414.4" cy="580.7" r="3.1"/>
<circle cx="429.7" cy="570.1" r="3.1"/>
<circle cx="431.4" cy="573.9" r="3.1"/>
<circle cx="434.8" cy="576.4" r="3.1"/>
<circle cx="440.0" cy="564.5" r="3.1"/>
<circle cx="453.6" cy="570.5" r="3.1"/>
<circle cx="504.8" cy="570.5" r="3.1"/>
<circle cx="421.2" cy="567.1" r="3.1"/>
<circle cx="424.6" cy="577.3" r="3.1"/>
<circle cx="401.6" cy="606.8" r="3.1"/>
<circle cx="402.4" cy="614.5" r="3.1"/>
<circle cx="412.7" cy="604.6" r="3.1"/>
<circle cx="425.5" cy="599.5" r="3.1"/>
<circle cx="428.0" cy="602.9" r="3.1"/>
<circle cx="426.3" cy="610.6" r="3.1"/>
<circle cx="436.5" cy="606.3" r="3.1"/>
<circle cx="436.5" cy="614.0" r="3.1"/>
<circle cx="450.2" cy="600.3" r="3.1"/>
<circle cx="451.9" cy="608.0" r="3.1"/>
<circle cx="448.5" cy="609.7" r="3.1"/>
<circle cx="458.7" cy="611.4" r="3.1"/>
<circle cx="460.4" cy="601.2" r="3.1"/>
<circle cx="465.5" cy="599.5" r="3.1"/>
<circle cx="464.7" cy="618.2" r="3.1"/>
<circle cx="472.4" cy="605.5" r="3.1"/>
<circle cx="472.0" cy="614.5" r="3.1"/>
<circle cx="503.9" cy="607.2" r="3.1"/>
<circle cx="372.6" cy="646.4" r="3.1"/>
<circle cx="374.3" cy="642.1" r="3.1"/>
<circle cx="380.2" cy="642.1" r="3.1"/>
<circle cx="390.5" cy="644.7" r="3.1"/>
<circle cx="405.8" cy="638.7" r="3.1"/>
<circle cx="407.5" cy="647.3" r="3.1"/>
<circle cx="410.1" cy="649.8" r="3.1"/>
<circle cx="412.7" cy="631.0" r="3.1"/>
<circle cx="418.6" cy="637.9" r="3.1"/>
<circle cx="424.6" cy="636.2" r="3.1"/>
<circle cx="431.4" cy="644.7" r="3.1"/>
<circle cx="438.2" cy="642.1" r="3.1"/>
<circle cx="426.3" cy="654.9" r="3.1"/>
<circle cx="411.0" cy="651.5" r="3.1"/>
<circle cx="394.7" cy="674.6" r="3.1"/>
<circle cx="388.8" cy="685.6" r="3.1"/>
<circle cx="400.7" cy="679.7" r="3.1"/>
<circle cx="424.6" cy="676.3" r="3.1"/>
<circle cx="426.3" cy="682.2" r="3.1"/>
<circle cx="462.1" cy="669.4" r="3.1"/>
<circle cx="469.0" cy="674.6" r="3.1"/>
<circle cx="467.3" cy="680.5" r="3.1"/>
<circle cx="459.6" cy="685.6" r="3.1"/>
<circle cx="466.4" cy="690.2" r="3.1"/>
<circle cx="486.0" cy="672.0" r="3.1"/>
<circle cx="486.9" cy="677.6" r="3.1"/>
<circle cx="483.5" cy="687.4" r="3.1"/>
<circle cx="498.8" cy="682.7" r="3.1"/>
<circle cx="514.2" cy="677.1" r="3.1"/>
<circle cx="520.1" cy="682.7" r="3.1"/>
<circle cx="550.9" cy="679.7" r="3.1"/>
<circle cx="576.4" cy="682.7" r="3.1"/>
<circle cx="585.8" cy="677.1" r="3.1"/>
<circle cx="410.9" cy="780.0" r="3.1"/>
<circle cx="426.3" cy="787.2" r="3.1"/>
<circle cx="426.3" cy="793.2" r="3.1"/>
<circle cx="434.8" cy="782.9" r="3.1"/>
<circle cx="438.2" cy="796.6" r="3.1"/>
<circle cx="445.9" cy="790.3" r="3.1"/>
<circle cx="449.3" cy="777.3" r="3.1"/>
<circle cx="454.5" cy="777.3" r="3.1"/>
<circle cx="463.8" cy="796.6" r="3.1"/>
<circle cx="466.4" cy="783.4" r="3.1"/>
<circle cx="478.3" cy="783.4" r="3.1"/>
<circle cx="478.3" cy="796.6" r="3.1"/>
<circle cx="485.2" cy="777.3" r="3.1"/>
<circle cx="492.8" cy="790.3" r="3.1"/>
<circle cx="511.6" cy="786.8" r="3.1"/>
<circle cx="535.5" cy="793.2" r="3.1"/>
<circle cx="545.7" cy="780.0" r="3.1"/>
<circle cx="546.6" cy="786.8" r="3.1"/>
<circle cx="386.2" cy="828.5" r="3.1"/>
<circle cx="388.8" cy="834.1" r="3.1"/>
<circle cx="399.9" cy="812.8" r="3.1"/>
<circle cx="399.9" cy="818.7" r="3.1"/>
<circle cx="402.4" cy="823.9" r="3.1"/>
<circle cx="409.2" cy="831.5" r="3.1"/>
<circle cx="417.4" cy="815.3" r="3.1"/>
<circle cx="422.0" cy="820.5" r="3.1"/>
<circle cx="426.3" cy="826.1" r="3.1"/>
<circle cx="430.6" cy="813.6" r="3.1"/>
<circle cx="447.6" cy="817.9" r="3.1"/>
<circle cx="443.4" cy="823.9" r="3.1"/>
<circle cx="451.0" cy="834.1" r="3.1"/>
<circle cx="457.4" cy="826.1" r="3.1"/>
<circle cx="472.4" cy="820.5" r="3.1"/>
<circle cx="476.6" cy="815.3" r="3.1"/>
<circle cx="483.5" cy="831.5" r="3.1"/>
<circle cx="487.7" cy="826.1" r="3.1"/>
<circle cx="539.8" cy="823.4" r="3.1"/>
<circle cx="376.8" cy="859.7" r="3.1"/>
<circle cx="386.2" cy="863.6" r="3.1"/>
<circle cx="399.9" cy="855.4" r="3.1"/>
<circle cx="410.9" cy="850.3" r="3.1"/>
<circle cx="412.7" cy="869.1" r="3.1"/>
<circle cx="417.8" cy="857.1" r="3.1"/>
<circle cx="421.2" cy="853.7" r="3.1"/>
<circle cx="416.1" cy="862.3" r="3.1"/>
<circle cx="424.6" cy="865.7" r="3.1"/>
<circle cx="439.1" cy="870.8" r="3.1"/>
<circle cx="447.6" cy="855.4" r="3.1"/>
<circle cx="456.2" cy="862.3" r="3.1"/>
<circle cx="463.0" cy="858.0" r="3.1"/>
<circle cx="477.5" cy="859.7" r="3.1"/>
<circle cx="503.9" cy="859.7" r="3.1"/>
<circle cx="370.0" cy="898.9" r="3.1"/>
<circle cx="378.2" cy="893.4" r="3.1"/>
<circle cx="389.6" cy="891.2" r="3.1"/>
<circle cx="389.6" cy="896.3" r="3.1"/>
<circle cx="400.4" cy="901.4" r="3.1"/>
<circle cx="417.8" cy="891.2" r="3.1"/>
<circle cx="421.2" cy="896.3" r="3.1"/>
<circle cx="422.9" cy="901.4" r="3.1"/>
<circle cx="426.3" cy="906.6" r="3.1"/>
<circle cx="426.3" cy="886.6" r="3.1"/>
<circle cx="443.4" cy="886.6" r="3.1"/>
<circle cx="450.2" cy="906.6" r="3.1"/>
<circle cx="451.9" cy="901.4" r="3.1"/>
<circle cx="457.9" cy="891.2" r="3.1"/>
<circle cx="467.3" cy="896.3" r="3.1"/>
<circle cx="470.7" cy="901.4" r="3.1"/>
<circle cx="497.1" cy="893.8" r="3.1"/>
<circle cx="499.7" cy="898.9" r="3.1"/>
<circle cx="520.1" cy="896.5" r="3.1"/>
<circle cx="413.5" cy="927.6" r="3.1"/>
<circle cx="414.0" cy="933.0" r="3.1"/>
<circle cx="419.5" cy="938.5" r="3.1"/>
<circle cx="437.4" cy="927.9" r="3.1"/>
<circle cx="440.8" cy="922.4" r="3.1"/>
<circle cx="449.3" cy="933.0" r="3.1"/>
<circle cx="446.8" cy="938.5" r="3.1"/>
<circle cx="445.9" cy="943.2" r="3.1"/>
<circle cx="463.8" cy="940.7" r="3.1"/>
<circle cx="465.5" cy="935.6" r="3.1"/>
<circle cx="469.8" cy="925.3" r="3.1"/>
<circle cx="479.2" cy="927.9" r="3.1"/>
<circle cx="482.6" cy="922.8" r="3.1"/>
<circle cx="484.0" cy="943.2" r="3.1"/>
<circle cx="493.7" cy="938.1" r="3.1"/>
<circle cx="497.1" cy="932.2" r="3.1"/>
<circle cx="510.8" cy="935.6" r="3.1"/>
<circle cx="516.7" cy="930.5" r="3.1"/>
<circle cx="552.2" cy="930.5" r="3.1"/>
<circle cx="561.1" cy="935.6" r="3.1"/>
<circle cx="372.6" cy="969.7" r="3.1"/>
<circle cx="385.4" cy="969.7" r="3.1"/>
<circle cx="395.6" cy="975.7" r="3.1"/>
<circle cx="399.0" cy="963.7" r="3.1"/>
<circle cx="406.7" cy="969.7" r="3.1"/>
<circle cx="407.5" cy="960.3" r="3.1"/>
<circle cx="416.1" cy="963.7" r="3.1"/>
<circle cx="419.5" cy="972.3" r="3.1"/>
<circle cx="421.2" cy="979.1" r="3.1"/>
<circle cx="429.7" cy="969.7" r="3.1"/>
<circle cx="438.2" cy="963.7" r="3.1"/>
<circle cx="440.8" cy="972.3" r="3.1"/>
<circle cx="451.9" cy="967.1" r="3.1"/>
<circle cx="422.9" cy="1004.7" r="3.1"/>
<circle cx="424.6" cy="1007.2" r="3.1"/>
<circle cx="450.2" cy="1007.2" r="3.1"/>
<circle cx="463.0" cy="1006.0" r="3.1"/>
<circle cx="469.0" cy="1011.5" r="3.1"/>
<circle cx="472.4" cy="999.6" r="3.1"/>
<circle cx="474.1" cy="1002.1" r="3.1"/>
<circle cx="487.7" cy="1004.7" r="3.1"/>
<circle cx="492.8" cy="997.8" r="3.1"/>
<circle cx="489.4" cy="1001.3" r="3.1"/>
<circle cx="499.7" cy="1014.1" r="3.1"/>
<circle cx="501.4" cy="1006.0" r="3.1"/>
<circle cx="542.3" cy="1004.7" r="3.1"/>
<circle cx="560.2" cy="1006.0" r="3.1"/>
<circle cx="466.4" cy="1013.2" r="3.1"/>
<circle cx="486.0" cy="1014.9" r="3.1"/>
</g>
<g stroke="#ff4aa3" stroke-width="7.6" stroke-linecap="round">
<line x1="478.9" y1="447.3" x2="478.9" y2="473.7"/>
<line x1="477.7" y1="484.5" x2="477.7" y2="510.9"/>
<line x1="439.8" y1="520.5" x2="439.8" y2="546.9"/>
<line x1="423.7" y1="557.1" x2="423.7" y2="583.5"/>
<line x1="443.7" y1="593.8" x2="443.7" y2="620.2"/>
<line x1="400.6" y1="630.3" x2="400.6" y2="656.7"/>
<line x1="478.9" y1="666.8" x2="478.9" y2="693.2"/>
<line x1="471.8" y1="773.8" x2="471.8" y2="800.2"/>
<line x1="441.0" y1="810.3" x2="441.0" y2="836.7"/>
<line x1="430.3" y1="846.8" x2="430.3" y2="873.2"/>
<line x1="436.2" y1="883.3" x2="436.2" y2="909.7"/>
<line x1="472.2" y1="920.2" x2="472.2" y2="946.6"/>
<line x1="412.9" y1="956.5" x2="412.9" y2="982.9"/>
<line x1="481.6" y1="992.8" x2="481.6" y2="1019.2"/>
</g>
<g stroke="#595959" stroke-width="2.8">
<line x1="614.5" y1="460.4" x2="614.5" y2="498.6"/>
<line x1="620.6" y1="460.4" x2="620.6" y2="682.5"/>
<line x1="627.0" y1="460.4" x2="627.0" y2="789.0"/>
<line x1="633.2" y1="460.4" x2="633.2" y2="933.0"/>
<line x1="639.5" y1="460.4" x2="639.5" y2="1004.0"/>
<line x1="673.2" y1="460.4" x2="673.2" y2="534.9"/>
<line x1="679.3" y1="460.4" x2="679.3" y2="571.0"/>
<line x1="685.5" y1="460.4" x2="685.5" y2="606.8"/>
<line x1="691.5" y1="460.4" x2="691.5" y2="643.0"/>
<line x1="697.6" y1="460.4" x2="697.6" y2="821.0"/>
<line x1="703.7" y1="460.4" x2="703.7" y2="859.0"/>
<line x1="710.0" y1="460.4" x2="710.0" y2="895.8"/>
<line x1="716.3" y1="460.4" x2="716.3" y2="968.8"/>
</g>
<text transform="translate(644.30,468.00) rotate(90) scale(1.0970,1.0400)" style='font-family:"Liberation Sans",sans-serif;font-size:25.20px;' fill="#000" >ns</text>
<text transform="translate(720.32,501.14) scale(1.0053,1.0400)" style='font-family:"Liberation Sans",sans-serif;font-size:35.86px;font-weight:bold;' fill="#000" >*</text>
<path d="M893,474.2 V150.6 H1324.8 V474.2" fill="none" stroke="#000" stroke-width="2"/>
<line x1="892" y1="474.2" x2="1325.8" y2="474.2" stroke="#000" stroke-width="2"/>
<line x1="866.6" y1="426.20" x2="893" y2="426.20" stroke="#000" stroke-width="2"/>
<line x1="866.6" y1="357.38" x2="893" y2="357.38" stroke="#000" stroke-width="2"/>
<line x1="866.6" y1="288.55" x2="893" y2="288.55" stroke="#000" stroke-width="2"/>
<line x1="866.6" y1="219.72" x2="893" y2="219.72" stroke="#000" stroke-width="2"/>
<line x1="866.6" y1="150.90" x2="893" y2="150.90" stroke="#000" stroke-width="2"/>
<line x1="879.8" y1="460.61" x2="893" y2="460.61" stroke="#000" stroke-width="2"/>
<line x1="879.8" y1="391.79" x2="893" y2="391.79" stroke="#000" stroke-width="2"/>
<line x1="879.8" y1="322.96" x2="893" y2="322.96" stroke="#000" stroke-width="2"/>
<line x1="879.8" y1="254.14" x2="893" y2="254.14" stroke="#000" stroke-width="2"/>
<line x1="879.8" y1="185.31" x2="893" y2="185.31" stroke="#000" stroke-width="2"/>
<g transform="translate(813.00,437.20) scale(1.0000,1.0400)"><text style='font-family:"Liberation Sans",sans-serif;font-size:32.30px;' fill="#000" >1.0</text><g fill="#fff"><rect x="1.13" y="-6.46" width="6.88" height="8.72"/><rect x="10.89" y="-6.46" width="6.62" height="8.72"/></g></g>
<g transform="translate(813.00,368.38) scale(1.0000,1.0400)"><text style='font-family:"Liberation Sans",sans-serif;font-size:32.30px;' fill="#000" >1.5</text><g fill="#fff"><rect x="1.13" y="-6.46" width="6.88" height="8.72"/><rect x="10.89" y="-6.46" width="6.62" height="8.72"/></g></g>
<text transform="translate(813.00,299.55) scale(1.0000,1.0400)" style='font-family:"Liberation Sans",sans-serif;font-size:32.30px;' fill="#000" >2.0</text>
<text transform="translate(813.00,230.72) scale(1.0000,1.0400)" style='font-family:"Liberation Sans",sans-serif;font-size:32.30px;' fill="#000" >2.5</text>
<text transform="translate(813.00,161.90) scale(1.0000,1.0400)" style='font-family:"Liberation Sans",sans-serif;font-size:32.30px;' fill="#000" >3.0</text>
<text transform="translate(802.00,449.62) rotate(-90) scale(1.0016,1.0400)" style='font-family:"Liberation Sans",sans-serif;font-size:32.40px;' fill="#000" >Colocalization index</text>
<line x1="893.20" y1="473.5" x2="893.20" y2="501" stroke="#000" stroke-width="2"/>
<line x1="919.13" y1="473.5" x2="919.13" y2="487.8" stroke="#000" stroke-width="2"/>
<line x1="934.30" y1="473.5" x2="934.30" y2="487.8" stroke="#000" stroke-width="2"/>
<line x1="945.07" y1="473.5" x2="945.07" y2="487.8" stroke="#000" stroke-width="2"/>
<line x1="953.42" y1="473.5" x2="953.42" y2="487.8" stroke="#000" stroke-width="2"/>
<line x1="960.24" y1="473.5" x2="960.24" y2="487.8" stroke="#000" stroke-width="2"/>
<line x1="966.01" y1="473.5" x2="966.01" y2="487.8" stroke="#000" stroke-width="2"/>
<line x1="971.00" y1="473.5" x2="971.00" y2="487.8" stroke="#000" stroke-width="2"/>
<line x1="975.41" y1="473.5" x2="975.41" y2="487.8" stroke="#000" stroke-width="2"/>
<line x1="979.35" y1="473.5" x2="979.35" y2="501" stroke="#000" stroke-width="2"/>
<line x1="1005.28" y1="473.5" x2="1005.28" y2="487.8" stroke="#000" stroke-width="2"/>
<line x1="1020.45" y1="473.5" x2="1020.45" y2="487.8" stroke="#000" stroke-width="2"/>
<line x1="1031.22" y1="473.5" x2="1031.22" y2="487.8" stroke="#000" stroke-width="2"/>
<line x1="1039.57" y1="473.5" x2="1039.57" y2="487.8" stroke="#000" stroke-width="2"/>
<line x1="1046.39" y1="473.5" x2="1046.39" y2="487.8" stroke="#000" stroke-width="2"/>
<line x1="1052.16" y1="473.5" x2="1052.16" y2="487.8" stroke="#000" stroke-width="2"/>
<line x1="1057.15" y1="473.5" x2="1057.15" y2="487.8" stroke="#000" stroke-width="2"/>
<line x1="1061.56" y1="473.5" x2="1061.56" y2="487.8" stroke="#000" stroke-width="2"/>
<line x1="1065.50" y1="473.5" x2="1065.50" y2="501" stroke="#000" stroke-width="2"/>
<line x1="1091.43" y1="473.5" x2="1091.43" y2="487.8" stroke="#000" stroke-width="2"/>
<line x1="1106.60" y1="473.5" x2="1106.60" y2="487.8" stroke="#000" stroke-width="2"/>
<line x1="1117.37" y1="473.5" x2="1117.37" y2="487.8" stroke="#000" stroke-width="2"/>
<line x1="1125.72" y1="473.5" x2="1125.72" y2="487.8" stroke="#000" stroke-width="2"/>
<line x1="1132.54" y1="473.5" x2="1132.54" y2="487.8" stroke="#000" stroke-width="2"/>
<line x1="1138.31" y1="473.5" x2="1138.31" y2="487.8" stroke="#000" stroke-width="2"/>
<line x1="1143.30" y1="473.5" x2="1143.30" y2="487.8" stroke="#000" stroke-width="2"/>
<line x1="1147.71" y1="473.5" x2="1147.71" y2="487.8" stroke="#000" stroke-width="2"/>
<line x1="1151.65" y1="473.5" x2="1151.65" y2="501" stroke="#000" stroke-width="2"/>
<line x1="1177.58" y1="473.5" x2="1177.58" y2="487.8" stroke="#000" stroke-width="2"/>
<line x1="1192.75" y1="473.5" x2="1192.75" y2="487.8" stroke="#000" stroke-width="2"/>
<line x1="1203.52" y1="473.5" x2="1203.52" y2="487.8" stroke="#000" stroke-width="2"/>
<line x1="1211.87" y1="473.5" x2="1211.87" y2="487.8" stroke="#000" stroke-width="2"/>
<line x1="1218.69" y1="473.5" x2="1218.69" y2="487.8" stroke="#000" stroke-width="2"/>
<line x1="1224.46" y1="473.5" x2="1224.46" y2="487.8" stroke="#000" stroke-width="2"/>
<line x1="1229.45" y1="473.5" x2="1229.45" y2="487.8" stroke="#000" stroke-width="2"/>
<line x1="1233.86" y1="473.5" x2="1233.86" y2="487.8" stroke="#000" stroke-width="2"/>
<line x1="1237.80" y1="473.5" x2="1237.80" y2="501" stroke="#000" stroke-width="2"/>
<line x1="1263.73" y1="473.5" x2="1263.73" y2="487.8" stroke="#000" stroke-width="2"/>
<line x1="1278.90" y1="473.5" x2="1278.90" y2="487.8" stroke="#000" stroke-width="2"/>
<line x1="1289.67" y1="473.5" x2="1289.67" y2="487.8" stroke="#000" stroke-width="2"/>
<line x1="1298.02" y1="473.5" x2="1298.02" y2="487.8" stroke="#000" stroke-width="2"/>
<line x1="1304.84" y1="473.5" x2="1304.84" y2="487.8" stroke="#000" stroke-width="2"/>
<line x1="1310.61" y1="473.5" x2="1310.61" y2="487.8" stroke="#000" stroke-width="2"/>
<line x1="1315.60" y1="473.5" x2="1315.60" y2="487.8" stroke="#000" stroke-width="2"/>
<line x1="1320.01" y1="473.5" x2="1320.01" y2="487.8" stroke="#000" stroke-width="2"/>
<line x1="1323.95" y1="473.5" x2="1323.95" y2="501" stroke="#000" stroke-width="2"/>
<text transform="translate(970.67,532.00) scale(1.0266,1.0400)" style='font-family:"Liberation Sans",sans-serif;font-size:32.40px;' fill="#000" >0</text>
<g transform="translate(1040.02,531.80) scale(1.0003,1.0400)"><text style='font-family:"Liberation Sans",sans-serif;font-size:32.40px;' fill="#000" >10</text><g fill="#fff"><rect x="1.13" y="-6.48" width="6.90" height="8.75"/><rect x="10.92" y="-6.48" width="6.64" height="8.75"/></g></g>
<g transform="translate(1076.28,520.90) scale(1.0648,1.0400)"><text style='font-family:"Liberation Sans",sans-serif;font-size:19.23px;' fill="#000" >-1</text><g fill="#fff"><rect x="7.08" y="-3.85" width="4.10" height="5.19"/><rect x="12.88" y="-3.85" width="3.94" height="5.19"/></g></g>
<g transform="translate(1140.36,531.80) scale(1.1842,1.0400)"><text style='font-family:"Liberation Sans",sans-serif;font-size:32.40px;' fill="#000" >1</text><g fill="#fff"><rect x="1.13" y="-6.48" width="6.90" height="8.75"/><rect x="10.92" y="-6.48" width="6.64" height="8.75"/></g></g>
<g transform="translate(1220.86,531.80) scale(1.0193,1.0400)"><text style='font-family:"Liberation Sans",sans-serif;font-size:32.40px;' fill="#000" >10</text><g fill="#fff"><rect x="1.13" y="-6.48" width="6.90" height="8.75"/><rect x="10.92" y="-6.48" width="6.64" height="8.75"/></g></g>
<g transform="translate(1301.41,531.80) scale(1.0035,1.0400)"><text style='font-family:"Liberation Sans",sans-serif;font-size:32.40px;' fill="#000" >10</text><g fill="#fff"><rect x="1.13" y="-6.48" width="6.90" height="8.75"/><rect x="10.92" y="-6.48" width="6.64" height="8.75"/></g></g>
<text transform="translate(1337.84,520.90) scale(1.0000,1.0400)" style='font-family:"Liberation Sans",sans-serif;font-size:19.30px;' fill="#000" >2</text>
<text transform="translate(870.85,564.90) scale(0.9949,1.0400)" style='font-family:"Liberation Sans",sans-serif;font-size:27.20px;' fill="#000" >Concentration of Dpep(20-42)DM (</text>
<text transform="translate(1288.14,564.90) scale(1.2225,1.0400)" style='font-family:"Liberation Serif",sans-serif;font-size:27.20px;' fill="#000" >μ</text>
<text transform="translate(1305.03,564.90) scale(0.9505,1.0400)" style='font-family:"Liberation Sans",sans-serif;font-size:27.20px;' fill="#000" >M)</text>
<g stroke="#404040" stroke-width="3">
<line x1="981.4" y1="196.0" x2="1239.4" y2="196.0"/>
<line x1="981.4" y1="206.7" x2="1153.3" y2="206.7"/>
<line x1="981.4" y1="216.8" x2="1064.7" y2="216.8"/>
<line x1="1068.2" y1="275.1" x2="1151.5" y2="275.1"/>
<line x1="1153.3" y1="325.1" x2="1236.6" y2="325.1"/>
</g>
<text transform="translate(1012.24,200.23) scale(1.0301,1.0400)" style='font-family:"Liberation Sans",sans-serif;font-size:30.15px;font-weight:bold;' fill="#000" >*</text>
<text transform="translate(1103.84,279.23) scale(1.0301,1.0400)" style='font-family:"Liberation Sans",sans-serif;font-size:30.15px;font-weight:bold;' fill="#000" >*</text>
<text transform="translate(1182.71,318.93) scale(1.0502,1.0400)" style='font-family:"Liberation Sans",sans-serif;font-size:26.22px;' fill="#000" >ns</text>
<path d="M979.2,235.4 V288.1 M979.2,365.0 V394.0" stroke="#e1268c" stroke-width="5.2" fill="none"/>
<path d="M965.4,235.4 H993.0 M965.4,394.0 H993.0" stroke="#e1268c" stroke-width="5.2" stroke-linecap="round" fill="none"/>
<rect x="951.2" y="288.1" width="56.2" height="76.9" fill="none" stroke="#e1268c" stroke-width="6.2" stroke-linejoin="round"/>
<line x1="951.2" y1="343.2" x2="1007.4" y2="343.2" stroke="#e1268c" stroke-width="6.2"/>
<path d="M935.8,312.0 H1022.8 M979.2,276.5 V353.3" stroke="#000" stroke-width="5.8" stroke-linecap="round" fill="none"/>
<g fill="#f6b9dc" stroke="#6d1040" stroke-width="1.1">
<circle cx="982.1" cy="235.4" r="5.1"/>
<circle cx="977.0" cy="270.8" r="5.1"/>
<circle cx="972.0" cy="282.8" r="5.1"/>
<circle cx="987.8" cy="288.9" r="5.1"/>
<circle cx="992.8" cy="292.3" r="5.1"/>
<circle cx="982.1" cy="314.5" r="5.1"/>
<circle cx="1004.1" cy="321.7" r="5.1"/>
<circle cx="998.6" cy="337.5" r="5.1"/>
<circle cx="955.0" cy="342.7" r="5.1"/>
<circle cx="971.5" cy="345.4" r="5.1"/>
<circle cx="960.7" cy="353.3" r="5.1"/>
<circle cx="966.3" cy="354.9" r="5.1"/>
<circle cx="977.0" cy="356.3" r="5.1"/>
<circle cx="962.9" cy="361.2" r="5.1"/>
<circle cx="996.2" cy="364.2" r="5.1"/>
<circle cx="990.7" cy="370.3" r="5.1"/>
<circle cx="968.1" cy="381.1" r="5.1"/>
<circle cx="974.7" cy="387.2" r="5.1"/>
<circle cx="985.5" cy="393.6" r="5.1"/>
</g>
<rect x="950.6" y="410.6" width="57.1" height="29.4" fill="none" stroke="#808080" stroke-width="5.5" stroke-linejoin="round"/>
<path d="M935.6,422.2 H1022.8 M979.4,382.0 V462.5" stroke="#000" stroke-width="5.8" stroke-linecap="round" fill="none"/>
<g fill="#bdbdbd" stroke="#404040" stroke-width="1.1">
<circle cx="957.8" cy="397.1" r="5.1"/>
<circle cx="967.0" cy="397.1" r="5.1"/>
<circle cx="979.6" cy="396.8" r="5.1"/>
<circle cx="953.9" cy="411.1" r="5.1"/>
<circle cx="979.2" cy="409.7" r="5.1"/>
<circle cx="983.2" cy="413.4" r="5.1"/>
<circle cx="986.8" cy="416.1" r="5.1"/>
<circle cx="989.6" cy="417.9" r="5.1"/>
<circle cx="992.3" cy="419.2" r="5.1"/>
<circle cx="995.9" cy="418.8" r="5.1"/>
<circle cx="1005.4" cy="415.6" r="5.1"/>
<circle cx="962.9" cy="419.2" r="5.1"/>
<circle cx="970.6" cy="423.3" r="5.1"/>
<circle cx="974.2" cy="424.2" r="5.1"/>
<circle cx="976.9" cy="424.7" r="5.1"/>
<circle cx="969.2" cy="426.9" r="5.1"/>
<circle cx="985.5" cy="428.3" r="5.1"/>
<circle cx="998.6" cy="428.3" r="5.1"/>
<circle cx="1000.8" cy="424.2" r="5.1"/>
<circle cx="960.6" cy="433.7" r="5.1"/>
<circle cx="981.4" cy="435.0" r="5.1"/>
<circle cx="995.0" cy="433.2" r="5.1"/>
<circle cx="964.3" cy="439.6" r="5.1"/>
<circle cx="990.0" cy="437.8" r="5.1"/>
<circle cx="993.5" cy="431.0" r="5.1"/>
<circle cx="997.5" cy="422.5" r="5.1"/>
</g>
<path d="M1065.3,296.8 V328.2 M1065.3,371.6 V413.4" stroke="#fc9898" stroke-width="5.8" fill="none"/>
<path d="M1051.7,296.8 H1078.9 M1051.7,413.4 H1078.9" stroke="#fc9898" stroke-width="5.8" stroke-linecap="round" fill="none"/>
<rect x="1037.9" y="328.2" width="55.9" height="43.4" fill="none" stroke="#fc9898" stroke-width="6.2" stroke-linejoin="round"/>
<path d="M1022.8,355.0 H1108.1 M1065.3,313.5 V397.5" stroke="#000" stroke-width="5.8" stroke-linecap="round" fill="none"/>
<g fill="#f6b9dc" stroke="#6d1040" stroke-width="1.1">
<circle cx="1069.9" cy="296.0" r="5.1"/>
<circle cx="1057.1" cy="314.7" r="5.1"/>
<circle cx="1083.1" cy="315.8" r="5.1"/>
<circle cx="1061.3" cy="325.1" r="5.1"/>
<circle cx="1077.9" cy="324.4" r="5.1"/>
<circle cx="1072.7" cy="329.7" r="5.1"/>
<circle cx="1065.8" cy="333.1" r="5.1"/>
<circle cx="1052.9" cy="344.2" r="5.1"/>
<circle cx="1049.1" cy="350.5" r="5.1"/>
<circle cx="1065.8" cy="359.2" r="5.1"/>
<circle cx="1057.1" cy="364.4" r="5.1"/>
<circle cx="1074.4" cy="366.1" r="5.1"/>
<circle cx="1081.4" cy="368.9" r="5.1"/>
<circle cx="1087.6" cy="367.8" r="5.1"/>
<circle cx="1069.2" cy="369.6" r="5.1"/>
<circle cx="1053.6" cy="371.3" r="5.1"/>
<circle cx="1049.1" cy="373.1" r="5.1"/>
<circle cx="1061.3" cy="377.2" r="5.1"/>
<circle cx="1044.2" cy="381.7" r="5.1"/>
<circle cx="1039.7" cy="387.6" r="5.1"/>
<circle cx="1091.1" cy="413.0" r="5.1"/>
</g>
<path d="M1151.8,358.0 V381.3 M1151.8,397.0 V424.4" stroke="#fc9898" stroke-width="5.8" fill="none"/>
<path d="M1138.5,358.0 H1165.1 M1138.5,424.4 H1165.1" stroke="#fc9898" stroke-width="5.8" stroke-linecap="round" fill="none"/>
<rect x="1124.4" y="381.3" width="54.5" height="15.7" fill="none" stroke="#fc9898" stroke-width="6.2" stroke-linejoin="round"/>
<path d="M1108.5,388.7 H1194.2 M1151.8,347.0 V426.9" stroke="#000" stroke-width="5.8" stroke-linecap="round" fill="none"/>
<g fill="#f6b9dc" stroke="#6d1040" stroke-width="1.1">
<circle cx="1151.9" cy="346.3" r="5.1"/>
<circle cx="1161.9" cy="358.1" r="5.1"/>
<circle cx="1153.6" cy="365.4" r="5.1"/>
<circle cx="1175.1" cy="370.3" r="5.1"/>
<circle cx="1168.2" cy="377.2" r="5.1"/>
<circle cx="1128.3" cy="381.7" r="5.1"/>
<circle cx="1157.8" cy="386.3" r="5.1"/>
<circle cx="1124.8" cy="387.6" r="5.1"/>
<circle cx="1136.9" cy="388.7" r="5.1"/>
<circle cx="1143.9" cy="391.1" r="5.1"/>
<circle cx="1164.7" cy="389.7" r="5.1"/>
<circle cx="1131.7" cy="396.7" r="5.1"/>
<circle cx="1156.0" cy="397.4" r="5.1"/>
<circle cx="1138.7" cy="406.0" r="5.1"/>
<circle cx="1172.7" cy="402.6" r="5.1"/>
<circle cx="1151.9" cy="426.9" r="5.1"/>
<circle cx="1178.6" cy="424.4" r="5.1"/>
</g>
<path d="M1237.8,363.3 V380.7 M1237.8,406.4 V426.9" stroke="#fc9898" stroke-width="5.8" fill="none"/>
<path d="M1224.7,363.3 H1250.9 M1224.7,426.9 H1250.9" stroke="#fc9898" stroke-width="5.8" stroke-linecap="round" fill="none"/>
<rect x="1211.1" y="380.7" width="54.0" height="25.7" fill="none" stroke="#fc9898" stroke-width="6.2" stroke-linejoin="round"/>
<path d="M1194.2,393.9 H1281.0 M1237.8,352.2 V435.6" stroke="#000" stroke-width="5.8" stroke-linecap="round" fill="none"/>
<g fill="#f6b9dc" stroke="#6d1040" stroke-width="1.1">
<circle cx="1236.6" cy="363.3" r="5.1"/>
<circle cx="1250.8" cy="365.4" r="5.1"/>
<circle cx="1217.5" cy="376.5" r="5.1"/>
<circle cx="1223.8" cy="378.3" r="5.1"/>
<circle cx="1231.4" cy="374.8" r="5.1"/>
<circle cx="1253.3" cy="378.3" r="5.1"/>
<circle cx="1239.4" cy="385.2" r="5.1"/>
<circle cx="1255.0" cy="387.0" r="5.1"/>
<circle cx="1259.2" cy="391.1" r="5.1"/>
<circle cx="1215.1" cy="393.9" r="5.1"/>
<circle cx="1222.0" cy="396.7" r="5.1"/>
<circle cx="1234.2" cy="393.2" r="5.1"/>
<circle cx="1243.0" cy="399.1" r="5.1"/>
<circle cx="1262.0" cy="402.6" r="5.1"/>
<circle cx="1246.3" cy="407.8" r="5.1"/>
<circle cx="1248.1" cy="414.0" r="5.1"/>
<circle cx="1264.7" cy="410.6" r="5.1"/>
<circle cx="1212.3" cy="416.5" r="5.1"/>
<circle cx="1229.0" cy="418.2" r="5.1"/>
<circle cx="1238.7" cy="426.9" r="5.1"/>
</g>
<clipPath id="cclip"><rect x="888.8" y="632.5" width="431.4" height="343.5"/></clipPath>
<g clip-path="url(#cclip)">
<g fill="#bebebe">
<rect x="915.40" y="696.0" width="18.37" height="280.0"/>
<rect x="933.47" y="719.0" width="18.37" height="257.0"/>
<rect x="951.54" y="737.0" width="18.37" height="239.0"/>
<rect x="969.61" y="761.3" width="18.37" height="214.7"/>
<rect x="987.68" y="782.2" width="18.37" height="193.8"/>
<rect x="1005.75" y="799.8" width="18.37" height="176.2"/>
<rect x="1023.82" y="817.5" width="18.37" height="158.5"/>
<rect x="1041.89" y="851.8" width="18.37" height="124.2"/>
<rect x="1059.96" y="869.3" width="18.37" height="106.7"/>
<rect x="1078.03" y="879.0" width="18.37" height="97.0"/>
<rect x="1096.10" y="898.8" width="18.37" height="77.2"/>
<rect x="1114.17" y="924.1" width="18.37" height="51.9"/>
<rect x="1132.24" y="925.4" width="18.37" height="50.6"/>
</g>
<g fill="none" stroke="#8f9bff" stroke-width="3">
<path d="M915.40,978.0 V691.8 H933.47 V978.0"/>
<path d="M933.47,978.0 V718.9 H951.54 V978.0"/>
<path d="M951.54,978.0 V735.5 H969.61 V978.0"/>
<path d="M969.61,978.0 V760.7 H987.68 V978.0"/>
<path d="M987.68,978.0 V781.8 H1005.75 V978.0"/>
<path d="M1005.75,978.0 V796.5 H1023.82 V978.0"/>
<path d="M1023.82,978.0 V803.3 H1041.89 V978.0"/>
<path d="M1041.89,978.0 V851.3 H1059.96 V978.0"/>
<path d="M1059.96,978.0 V838.7 H1078.03 V978.0"/>
<path d="M1078.03,978.0 V868.3 H1096.10 V978.0"/>
<path d="M1096.10,978.0 V877.2 H1114.17 V978.0"/>
<path d="M1114.17,978.0 V877.2 H1132.24 V978.0"/>
<path d="M1132.24,978.0 V929.2 H1150.31 V978.0"/>
<path d="M1150.31,978.0 V929.2 H1168.38 V978.0"/>
<path d="M1168.38,978.0 V929.2 H1186.45 V978.0"/>
<path d="M1222.59,978.0 V887.7 H1240.66 V978.0"/>
<path d="M1240.66,978.0 V929.9 H1258.73 V978.0"/>
<path d="M1312.94,978.0 V929.2 H1331.01 V978.0"/>
</g>
<g fill="none" stroke="#ffb1dc" stroke-width="3.9">
<path d="M915.40,978.0 V692.4 H933.47 V978.0"/>
<path d="M933.47,978.0 V713.6 H951.54 V978.0"/>
<path d="M951.54,978.0 V734.5 H969.61 V978.0"/>
<path d="M969.61,978.0 V757.0 H987.68 V978.0"/>
<path d="M987.68,978.0 V772.4 H1005.75 V978.0"/>
<path d="M1005.75,978.0 V791.4 H1023.82 V978.0"/>
<path d="M1023.82,978.0 V810.4 H1041.89 V978.0"/>
<path d="M1041.89,978.0 V840.4 H1059.96 V978.0"/>
<path d="M1059.96,978.0 V840.0 H1078.03 V978.0"/>
<path d="M1078.03,978.0 V853.8 H1096.10 V978.0"/>
<path d="M1096.10,978.0 V867.2 H1114.17 V978.0"/>
<path d="M1114.17,978.0 V892.6 H1132.24 V978.0"/>
<path d="M1132.24,978.0 V898.1 H1150.31 V978.0"/>
<path d="M1150.31,978.0 V889.0 H1168.38 V978.0"/>
<path d="M1168.38,978.0 V911.0 H1186.45 V978.0"/>
<path d="M1186.45,978.0 V930.0 H1204.52 V978.0"/>
<path d="M1204.52,978.0 V910.6 H1222.59 V978.0"/>
<path d="M1222.59,978.0 V920.1 H1240.66 V978.0"/>
<path d="M1240.66,978.0 V944.5 H1258.73 V978.0"/>
<path d="M1258.73,978.0 V904.2 H1276.80 V978.0"/>
<path d="M1276.80,978.0 V952.6 H1294.87 V978.0"/>
<path d="M1312.94,978.0 V970.3 H1331.01 V978.0"/>
</g>
<path d="M924.5,692 L1161,982" stroke="#404040" stroke-width="6" fill="none"/>
<path d="M924.4,691.5 C929.3,696.8 943.1,710.8 954.0,723.0 C964.9,735.2 978.2,751.9 989.5,765.0 C1000.8,778.1 1010.1,789.6 1022.0,801.5 C1033.9,813.4 1047.7,825.7 1060.7,836.5 C1073.7,847.3 1086.8,857.4 1100.0,866.5 C1113.2,875.6 1126.5,883.7 1140.0,891.0 C1153.5,898.3 1163.8,903.5 1180.8,910.2 C1197.8,917.0 1218.3,924.3 1241.7,931.5 C1265.1,938.7 1307.8,949.8 1321.0,953.5" stroke="#ff3ca6" stroke-width="7" fill="none" stroke-linecap="round"/>
<path d="M924.4,691.5 C929.4,697.0 943.4,712.2 954.2,724.7 C965.1,737.2 978.2,753.7 989.5,766.8 C1000.8,779.9 1010.1,791.6 1022.0,803.4 C1033.9,815.2 1049.9,829.2 1060.7,837.8 C1071.5,846.4 1078.1,848.9 1087.0,855.2 C1095.9,861.5 1105.0,869.3 1114.0,875.6 C1123.0,881.9 1129.9,886.6 1141.0,893.2 C1152.1,899.9 1164.0,906.3 1180.8,915.5 C1197.6,924.7 1221.8,937.8 1241.7,948.2 C1261.6,958.6 1290.3,973.0 1300.0,978.0" stroke="#6f7cff" stroke-opacity="0.85" stroke-width="7" fill="none" stroke-linecap="round"/>
</g>
<path d="M888.8,976 V632.5 H1319.2 V976" fill="none" stroke="#000" stroke-width="3"/>
<line x1="887.3" y1="976" x2="1320.7" y2="976" stroke="#000" stroke-width="3"/>
<line x1="870.4" y1="632.50" x2="889" y2="632.50" stroke="#000" stroke-width="3"/>
<line x1="879.6" y1="692.51" x2="889" y2="692.51" stroke="#000" stroke-width="2.2"/>
<line x1="879.6" y1="677.39" x2="889" y2="677.39" stroke="#000" stroke-width="2.2"/>
<line x1="879.6" y1="666.66" x2="889" y2="666.66" stroke="#000" stroke-width="2.2"/>
<line x1="879.6" y1="658.34" x2="889" y2="658.34" stroke="#000" stroke-width="2.2"/>
<line x1="879.6" y1="651.55" x2="889" y2="651.55" stroke="#000" stroke-width="2.2"/>
<line x1="879.6" y1="645.80" x2="889" y2="645.80" stroke="#000" stroke-width="2.2"/>
<line x1="879.6" y1="640.82" x2="889" y2="640.82" stroke="#000" stroke-width="2.2"/>
<line x1="879.6" y1="636.43" x2="889" y2="636.43" stroke="#000" stroke-width="2.2"/>
<line x1="870.4" y1="718.35" x2="889" y2="718.35" stroke="#000" stroke-width="3"/>
<line x1="879.6" y1="778.36" x2="889" y2="778.36" stroke="#000" stroke-width="2.2"/>
<line x1="879.6" y1="763.24" x2="889" y2="763.24" stroke="#000" stroke-width="2.2"/>
<line x1="879.6" y1="752.51" x2="889" y2="752.51" stroke="#000" stroke-width="2.2"/>
<line x1="879.6" y1="744.19" x2="889" y2="744.19" stroke="#000" stroke-width="2.2"/>
<line x1="879.6" y1="737.40" x2="889" y2="737.40" stroke="#000" stroke-width="2.2"/>
<line x1="879.6" y1="731.65" x2="889" y2="731.65" stroke="#000" stroke-width="2.2"/>
<line x1="879.6" y1="726.67" x2="889" y2="726.67" stroke="#000" stroke-width="2.2"/>
<line x1="879.6" y1="722.28" x2="889" y2="722.28" stroke="#000" stroke-width="2.2"/>
<line x1="870.4" y1="804.20" x2="889" y2="804.20" stroke="#000" stroke-width="3"/>
<line x1="879.6" y1="864.21" x2="889" y2="864.21" stroke="#000" stroke-width="2.2"/>
<line x1="879.6" y1="849.09" x2="889" y2="849.09" stroke="#000" stroke-width="2.2"/>
<line x1="879.6" y1="838.36" x2="889" y2="838.36" stroke="#000" stroke-width="2.2"/>
<line x1="879.6" y1="830.04" x2="889" y2="830.04" stroke="#000" stroke-width="2.2"/>
<line x1="879.6" y1="823.25" x2="889" y2="823.25" stroke="#000" stroke-width="2.2"/>
<line x1="879.6" y1="817.50" x2="889" y2="817.50" stroke="#000" stroke-width="2.2"/>
<line x1="879.6" y1="812.52" x2="889" y2="812.52" stroke="#000" stroke-width="2.2"/>
<line x1="879.6" y1="808.13" x2="889" y2="808.13" stroke="#000" stroke-width="2.2"/>
<line x1="870.4" y1="890.05" x2="889" y2="890.05" stroke="#000" stroke-width="3"/>
<line x1="879.6" y1="950.06" x2="889" y2="950.06" stroke="#000" stroke-width="2.2"/>
<line x1="879.6" y1="934.94" x2="889" y2="934.94" stroke="#000" stroke-width="2.2"/>
<line x1="879.6" y1="924.21" x2="889" y2="924.21" stroke="#000" stroke-width="2.2"/>
<line x1="879.6" y1="915.89" x2="889" y2="915.89" stroke="#000" stroke-width="2.2"/>
<line x1="879.6" y1="909.10" x2="889" y2="909.10" stroke="#000" stroke-width="2.2"/>
<line x1="879.6" y1="903.35" x2="889" y2="903.35" stroke="#000" stroke-width="2.2"/>
<line x1="879.6" y1="898.37" x2="889" y2="898.37" stroke="#000" stroke-width="2.2"/>
<line x1="879.6" y1="893.98" x2="889" y2="893.98" stroke="#000" stroke-width="2.2"/>
<line x1="870.4" y1="975.90" x2="889" y2="975.90" stroke="#000" stroke-width="3"/>
<line x1="888.80" y1="975.5" x2="888.80" y2="994.8" stroke="#000" stroke-width="3"/>
<line x1="915.76" y1="975.5" x2="915.76" y2="986" stroke="#000" stroke-width="3"/>
<line x1="942.72" y1="975.5" x2="942.72" y2="994.8" stroke="#000" stroke-width="3"/>
<line x1="969.69" y1="975.5" x2="969.69" y2="986" stroke="#000" stroke-width="3"/>
<line x1="996.65" y1="975.5" x2="996.65" y2="994.8" stroke="#000" stroke-width="3"/>
<line x1="1023.61" y1="975.5" x2="1023.61" y2="986" stroke="#000" stroke-width="3"/>
<line x1="1050.58" y1="975.5" x2="1050.58" y2="994.8" stroke="#000" stroke-width="3"/>
<line x1="1077.54" y1="975.5" x2="1077.54" y2="986" stroke="#000" stroke-width="3"/>
<line x1="1104.50" y1="975.5" x2="1104.50" y2="994.8" stroke="#000" stroke-width="3"/>
<line x1="1131.46" y1="975.5" x2="1131.46" y2="986" stroke="#000" stroke-width="3"/>
<line x1="1158.42" y1="975.5" x2="1158.42" y2="994.8" stroke="#000" stroke-width="3"/>
<line x1="1185.39" y1="975.5" x2="1185.39" y2="986" stroke="#000" stroke-width="3"/>
<line x1="1212.35" y1="975.5" x2="1212.35" y2="994.8" stroke="#000" stroke-width="3"/>
<line x1="1239.31" y1="975.5" x2="1239.31" y2="986" stroke="#000" stroke-width="3"/>
<line x1="1266.28" y1="975.5" x2="1266.28" y2="994.8" stroke="#000" stroke-width="3"/>
<line x1="1293.24" y1="975.5" x2="1293.24" y2="986" stroke="#000" stroke-width="3"/>
<line x1="1320.20" y1="975.5" x2="1320.20" y2="994.8" stroke="#000" stroke-width="3"/>
<g transform="translate(830.43,644.20) scale(1.1554,1.0400)"><text style='font-family:"Liberation Sans",sans-serif;font-size:32.50px;' fill="#000" >1</text><g fill="#fff"><rect x="1.14" y="-6.50" width="6.92" height="8.78"/><rect x="10.95" y="-6.50" width="6.66" height="8.78"/></g></g>
<g transform="translate(813.12,730.15) scale(0.9972,1.0400)"><text style='font-family:"Liberation Sans",sans-serif;font-size:32.50px;' fill="#000" >10</text><g fill="#fff"><rect x="1.14" y="-6.50" width="6.92" height="8.78"/><rect x="10.95" y="-6.50" width="6.66" height="8.78"/></g></g>
<g transform="translate(848.33,719.25) scale(1.0000,1.0400)"><text style='font-family:"Liberation Sans",sans-serif;font-size:19.30px;' fill="#000" >-1</text><g fill="#fff"><rect x="7.10" y="-3.86" width="4.11" height="5.21"/><rect x="12.93" y="-3.86" width="3.96" height="5.21"/></g></g>
<g transform="translate(813.12,816.00) scale(0.9972,1.0400)"><text style='font-family:"Liberation Sans",sans-serif;font-size:32.50px;' fill="#000" >10</text><g fill="#fff"><rect x="1.14" y="-6.50" width="6.92" height="8.78"/><rect x="10.95" y="-6.50" width="6.66" height="8.78"/></g></g>
<text transform="translate(848.33,805.10) scale(1.0000,1.0400)" style='font-family:"Liberation Sans",sans-serif;font-size:19.30px;' fill="#000" >-2</text>
<g transform="translate(813.12,901.85) scale(0.9972,1.0400)"><text style='font-family:"Liberation Sans",sans-serif;font-size:32.50px;' fill="#000" >10</text><g fill="#fff"><rect x="1.14" y="-6.50" width="6.92" height="8.78"/><rect x="10.95" y="-6.50" width="6.66" height="8.78"/></g></g>
<text transform="translate(848.33,890.95) scale(1.0000,1.0400)" style='font-family:"Liberation Sans",sans-serif;font-size:19.30px;' fill="#000" >-3</text>
<g transform="translate(813.12,987.70) scale(0.9972,1.0400)"><text style='font-family:"Liberation Sans",sans-serif;font-size:32.50px;' fill="#000" >10</text><g fill="#fff"><rect x="1.14" y="-6.50" width="6.92" height="8.78"/><rect x="10.95" y="-6.50" width="6.66" height="8.78"/></g></g>
<text transform="translate(848.33,976.80) scale(1.0000,1.0400)" style='font-family:"Liberation Sans",sans-serif;font-size:19.30px;' fill="#000" >-4</text>
<text transform="translate(878.77,1024.10) scale(1.0203,1.0400)" style='font-family:"Liberation Sans",sans-serif;font-size:32.60px;' fill="#000" >0</text>
<text transform="translate(969.65,1024.10) scale(1.0000,1.0400)" style='font-family:"Liberation Sans",sans-serif;font-size:32.60px;' fill="#000" >200</text>
<text transform="translate(1077.90,1024.10) scale(1.0000,1.0400)" style='font-family:"Liberation Sans",sans-serif;font-size:32.60px;' fill="#000" >400</text>
<text transform="translate(1185.35,1024.10) scale(1.0000,1.0400)" style='font-family:"Liberation Sans",sans-serif;font-size:32.60px;' fill="#000" >600</text>
<text transform="translate(1293.28,1024.10) scale(1.0000,1.0400)" style='font-family:"Liberation Sans",sans-serif;font-size:32.60px;' fill="#000" >800</text>
<text transform="translate(907.87,1060.00) scale(0.9936,1.0400)" style='font-family:"Liberation Sans",sans-serif;font-size:32.80px;' fill="#000" >Colocalization duration (ms)</text>
<text transform="translate(805.80,875.58) rotate(-90) scale(1.0061,1.0400)" style='font-family:"Liberation Sans",sans-serif;font-size:32.10px;' fill="#000" >Fraction</text>
<text transform="translate(1100.94,660.90) scale(0.9945,1.0400)" style='font-family:"Liberation Sans",sans-serif;font-size:27.10px;' fill="#000" >Rotated overlay</text>
<text transform="translate(1110.57,688.04) scale(1.1548,1.0400)" style='font-family:"Liberation Serif",sans-serif;font-size:25.37px;' fill="#000" >τ</text>
<text transform="translate(1122.96,696.70) scale(1.0496,1.0400)" style='font-family:"Liberation Sans",sans-serif;font-size:15.30px;' fill="#000" >inci</text>
<text transform="translate(1145.55,687.70) scale(1.2464,1.0400)" style='font-family:"Liberation Sans",sans-serif;font-size:24.49px;' fill="#000" >:</text>
<text transform="translate(1161.02,687.70) scale(1.0232,1.0400)" style='font-family:"Liberation Sans",sans-serif;font-size:26.50px;' fill="#000" >58 ± 0.2 ms</text>
<text transform="translate(1104.73,735.80) scale(0.9891,1.0400)" style='font-family:"Liberation Sans",sans-serif;font-size:27.40px;' fill="#ff3aa6" >No addition</text>
<text transform="translate(1109.56,764.03) scale(1.1474,1.0400)" style='font-family:"Liberation Serif",sans-serif;font-size:25.78px;' fill="#ff3aa6" >τ</text>
<text transform="translate(1121.45,772.80) scale(1.1099,1.0400)" style='font-family:"Liberation Sans",sans-serif;font-size:15.25px;' fill="#ff3aa6" >2</text>
<text transform="translate(1130.45,763.70) scale(1.2464,1.0400)" style='font-family:"Liberation Sans",sans-serif;font-size:24.49px;' fill="#ff3aa6" >:</text>
<g transform="translate(1145.65,763.70) scale(1.0212,1.0400)"><text style='font-family:"Liberation Sans",sans-serif;font-size:26.50px;' fill="#ff3aa6" >260 ± 12 ms</text><g fill="#fff"><rect x="74.41" y="-5.30" width="5.64" height="7.16"/><rect x="82.41" y="-5.30" width="5.43" height="7.16"/></g></g>
<g transform="translate(1103.93,818.80) scale(1.0090,1.0400)"><text style='font-family:"Liberation Sans",sans-serif;font-size:27.10px;' fill="#5068ff" >+DpepDM (1 uM)</text><g fill="#fff"><rect x="140.26" y="-5.42" width="5.77" height="7.32"/><rect x="148.44" y="-5.42" width="5.56" height="7.32"/></g></g>
<text transform="translate(1109.56,848.13) scale(1.1207,1.0400)" style='font-family:"Liberation Serif",sans-serif;font-size:26.39px;' fill="#5068ff" >τ</text>
<text transform="translate(1121.43,856.70) scale(1.1596,1.0400)" style='font-family:"Liberation Sans",sans-serif;font-size:14.97px;' fill="#5068ff" >2</text>
<text transform="translate(1130.17,847.80) scale(1.3753,1.0400)" style='font-family:"Liberation Sans",sans-serif;font-size:24.49px;' fill="#5068ff" >:</text>
<g transform="translate(1144.92,847.80) scale(1.0258,1.0400)"><text style='font-family:"Liberation Sans",sans-serif;font-size:26.50px;' fill="#5068ff" >124 ± 11 ms</text><g fill="#fff"><rect x="0.93" y="-5.30" width="5.64" height="7.16"/><rect x="8.93" y="-5.30" width="5.43" height="7.16"/><rect x="74.41" y="-5.30" width="5.64" height="7.16"/><rect x="82.41" y="-5.30" width="5.43" height="7.16"/><rect x="87.18" y="-5.30" width="5.64" height="7.16"/><rect x="95.18" y="-5.30" width="5.43" height="7.16"/></g></g>
</svg>
</body></html>
